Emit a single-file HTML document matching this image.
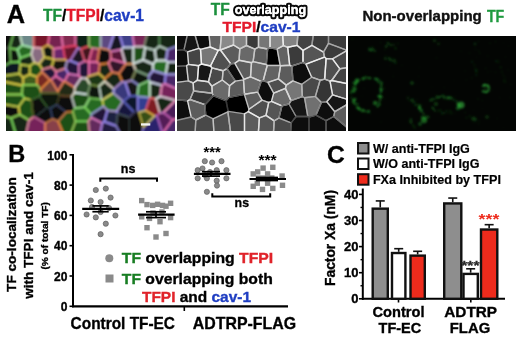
<!DOCTYPE html>
<html><head><meta charset="utf-8"><style>
html,body{margin:0;padding:0;background:#fff;width:520px;height:339px;overflow:hidden}
svg{display:block;filter:blur(0.3px);font-family:"Liberation Sans",sans-serif;font-weight:bold}
</style></head><body>
<svg width="520" height="339" viewBox="0 0 520 339">
<clipPath id="cA"><rect x="6" y="36" width="169" height="95"/></clipPath>
<filter id="fA" x="-5%" y="-5%" width="110%" height="110%"><feGaussianBlur stdDeviation="0.85"/></filter>
<g clip-path="url(#cA)"><rect x="6" y="36" width="169" height="95" fill="#203020"/><g filter="url(#fA)">
<path d="M9.5 48.0 L-451.9 48.0 L-455.4 -25.1 L-373.9 -226.8 L-216.0 -375.2 L-14.4 -443.8 L17.0 -441.0 L17.0 21.5Z" fill="#070707"/>
<path d="M9.8 48.2 L17.3 49.5 L22.3 45.2 L17.0 21.5 L9.5 48.0Z" fill="#122712"/>
<path d="M22.3 45.2 L33.0 47.9 L33.6 47.4 L33.6 -439.9 L17.0 -441.0 L17.0 21.5Z" fill="#6c8888"/>
<path d="M47.9 45.0 L55.9 -7.1 L71.4 -437.9 L33.6 -439.9 L33.6 47.4 L42.2 48.3Z" fill="#76192b"/>
<path d="M47.9 45.0 L55.9 -7.1 L63.0 47.4 L63.0 47.4 L53.4 48.8Z" fill="#76244f"/>
<path d="M63.0 47.4 L75.4 45.5 L75.4 -437.8 L71.4 -437.9 L55.9 -7.1Z" fill="#812b4f"/>
<path d="M88.9 46.1 L84.9 -437.8 L75.4 -437.8 L75.4 45.5 L77.7 48.2 L80.9 49.1Z" fill="#0f2414"/>
<path d="M9.8 48.2 L10.7 62.3 L-17.5 78.3 L-77.0 91.7 L-450.4 97.1 L-451.9 48.0 L9.5 48.0Z" fill="#070707"/>
<path d="M9.8 48.2 L10.7 62.3 L18.9 61.9 L20.2 58.1 L17.3 49.5Z" fill="#0a150a"/>
<path d="M22.3 45.2 L33.0 47.9 L31.3 54.2 L20.2 58.1 L17.3 49.5Z" fill="#276a20"/>
<path d="M29.7 65.9 L34.5 62.6 L31.3 54.2 L20.2 58.1 L18.9 61.9 L20.6 64.6Z" fill="#122712"/>
<path d="M39.0 64.1 L44.1 57.2 L42.2 48.3 L33.6 47.4 L33.0 47.9 L31.3 54.2 L34.5 62.6Z" fill="#886c81"/>
<path d="M47.9 45.0 L53.4 48.8 L53.4 59.2 L44.1 57.2 L42.2 48.3Z" fill="#0e190e"/>
<path d="M53.4 48.8 L63.0 47.4 L65.2 59.7 L53.7 59.7 L53.4 59.2Z" fill="#6c276c"/>
<path d="M70.2 60.6 L77.7 48.2 L75.4 45.5 L63.0 47.4 L63.0 47.4 L65.2 59.7 L67.0 61.2Z" fill="#64152b"/>
<path d="M70.2 60.6 L77.7 48.2 L80.9 49.1 L84.6 61.0 L78.7 64.2Z" fill="#1c1224"/>
<path d="M88.5 61.9 L84.6 61.0 L80.9 49.1 L88.9 46.1 L92.4 48.1Z" fill="#40121c"/>
<path d="M19.3 73.7 L-12.9 78.3 L-17.5 78.3 L10.7 62.3 L18.9 61.9 L20.6 64.6Z" fill="#0e1920"/>
<path d="M23.1 77.6 L19.3 73.7 L20.6 64.6 L29.7 65.9 L29.7 74.3Z" fill="#122712"/>
<path d="M41.9 71.9 L37.0 76.8 L29.7 74.3 L29.7 65.9 L34.5 62.6 L39.0 64.1 L42.4 69.5Z" fill="#1c4f19"/>
<path d="M51.6 66.9 L53.7 59.7 L53.4 59.2 L44.1 57.2 L39.0 64.1 L42.4 69.5Z" fill="#122712"/>
<path d="M65.4 68.3 L67.0 61.2 L65.2 59.7 L53.7 59.7 L51.6 66.9 L56.1 71.5Z" fill="#12150e"/>
<path d="M50.9 79.9 L50.0 79.9 L41.9 71.9 L42.4 69.5 L51.6 66.9 L56.1 71.5 L55.6 76.1Z" fill="#241539"/>
<path d="M55.6 76.1 L56.1 71.5 L65.4 68.3 L68.4 73.8 L64.6 81.2 L63.9 81.5Z" fill="#482768"/>
<path d="M68.4 73.8 L78.7 75.3 L78.7 64.2 L70.2 60.6 L67.0 61.2 L65.4 68.3Z" fill="#241539"/>
<path d="M78.7 75.3 L81.2 78.1 L86.5 78.5 L88.8 76.1 L88.9 62.1 L88.5 61.9 L84.6 61.0 L78.7 64.2Z" fill="#241539"/>
<path d="M23.1 77.6 L19.3 73.7 L-12.9 78.3 L22.7 85.5 L23.2 84.8Z" fill="#2b4015"/>
<path d="M23.1 77.6 L29.7 74.3 L37.0 76.8 L37.0 84.8 L23.2 84.8Z" fill="#405d1c"/>
<path d="M50.0 79.9 L41.9 71.9 L37.0 76.8 L37.0 84.8 L40.5 89.5Z" fill="#762b20"/>
<path d="M50.9 79.9 L57.8 91.2 L63.9 81.5 L55.6 76.1Z" fill="#4f1c40"/>
<path d="M68.4 73.8 L78.7 75.3 L81.2 78.1 L74.7 87.5 L64.6 81.2Z" fill="#642b5d"/>
<path d="M92.4 48.1 L88.9 46.1 L84.9 -437.8 L99.6 -437.8 L100.6 -410.5 L100.6 48.2 L99.4 48.8Z" fill="#276a20"/>
<path d="M100.6 -410.5 L116.9 -76.4 L117.0 25.5 L108.7 49.9 L100.6 48.2Z" fill="#5d4881"/>
<path d="M121.5 49.5 L123.3 47.5 L117.0 25.5 L108.7 49.9 L110.5 51.7Z" fill="#151524"/>
<path d="M123.3 47.5 L133.3 47.4 L134.2 46.6 L116.9 -76.4 L117.0 25.5Z" fill="#404088"/>
<path d="M100.6 -410.5 L116.9 -76.4 L134.2 46.6 L144.1 46.6 L159.4 -15.6 L208.0 -437.8 L195.2 -442.7 L99.6 -437.8Z" fill="#762756"/>
<path d="M145.1 47.7 L154.8 50.1 L159.4 46.1 L159.4 -15.6 L144.1 46.6Z" fill="#122712"/>
<path d="M159.4 46.1 L167.6 49.7 L597.5 -111.1 L551.7 -224.7 L395.4 -372.8 L208.0 -437.8 L159.4 -15.6Z" fill="#122712"/>
<path d="M88.5 61.9 L92.4 48.1 L99.4 48.8 L97.2 62.2 L88.9 62.1Z" fill="#81244f"/>
<path d="M99.7 64.3 L97.2 62.2 L99.4 48.8 L100.6 48.2 L108.7 49.9 L110.5 51.7 L110.9 59.2 L108.4 63.2Z" fill="#070707"/>
<path d="M121.5 49.5 L110.5 51.7 L110.9 59.2 L125.2 63.1Z" fill="#561939"/>
<path d="M125.9 63.8 L125.2 63.1 L121.5 49.5 L123.3 47.5 L133.3 47.4 L133.3 63.6 L133.1 63.8Z" fill="#122712"/>
<path d="M133.3 47.4 L133.3 63.6 L143.1 59.9 L145.1 47.7 L144.1 46.6 L134.2 46.6Z" fill="#1c4f19"/>
<path d="M156.0 60.5 L154.8 50.1 L145.1 47.7 L143.1 59.9 L152.9 64.1Z" fill="#122712"/>
<path d="M156.0 60.5 L154.8 50.1 L159.4 46.1 L167.6 49.7 L165.9 60.5Z" fill="#122712"/>
<path d="M165.9 60.5 L167.6 49.7 L597.5 -111.1 L634.0 -24.6 L631.3 62.1 L167.8 62.1Z" fill="#482768"/>
<path d="M99.7 64.3 L97.2 62.2 L88.9 62.1 L88.8 76.1 L98.5 73.3Z" fill="#76245a"/>
<path d="M99.7 64.3 L98.5 73.3 L104.7 78.6 L112.3 72.2 L108.4 63.2Z" fill="#122712"/>
<path d="M125.9 63.8 L125.2 63.1 L110.9 59.2 L108.4 63.2 L112.3 72.2 L118.9 73.7Z" fill="#32152b"/>
<path d="M125.2 82.4 L122.3 81.6 L118.9 73.7 L125.9 63.8 L133.1 63.8 L135.8 70.3 L131.5 80.3Z" fill="#070707"/>
<path d="M133.1 63.8 L133.3 63.6 L143.1 59.9 L152.9 64.1 L152.9 70.6 L148.8 75.9 L135.8 70.3Z" fill="#122712"/>
<path d="M156.0 60.5 L165.9 60.5 L167.8 62.1 L165.7 74.3 L152.9 70.6 L152.9 64.1Z" fill="#276a20"/>
<path d="M167.8 62.1 L631.3 62.1 L631.1 74.3 L165.7 74.3 L165.7 74.3Z" fill="#122712"/>
<path d="M90.1 84.8 L86.5 78.5 L88.8 76.1 L98.5 73.3 L104.7 78.6 L104.7 81.2 L99.1 86.1Z" fill="#1c3919"/>
<path d="M118.9 73.7 L112.3 72.2 L104.7 78.6 L104.7 81.2 L113.8 89.1 L122.3 81.6Z" fill="#122712"/>
<path d="M138.7 85.2 L148.8 80.7 L148.8 75.9 L135.8 70.3 L131.5 80.3Z" fill="#0a150a"/>
<path d="M148.8 80.7 L148.8 75.9 L152.9 70.6 L165.7 74.3 L165.7 74.3 L164.7 83.6 L161.8 85.4 L149.7 81.9Z" fill="#241539"/>
<path d="M193.5 96.2 L322.0 96.2 L631.1 81.1 L631.1 74.3 L165.7 74.3 L164.7 83.6Z" fill="#482768"/>
<path d="M21.8 94.5 L22.7 85.5 L-12.9 78.3 L-17.5 78.3 L-77.0 91.7 L-67.1 93.4 L-52.7 94.5Z" fill="#1c4f19"/>
<path d="M41.1 92.8 L39.3 96.4 L31.2 100.0 L24.6 98.4 L21.8 94.5 L22.7 85.5 L23.2 84.8 L37.0 84.8 L40.5 89.5Z" fill="#1c4f19"/>
<path d="M50.9 79.9 L50.0 79.9 L40.5 89.5 L41.1 92.8 L57.7 92.8 L57.8 91.2Z" fill="#6c4039"/>
<path d="M57.8 91.2 L57.7 92.8 L59.5 95.4 L71.6 96.5 L74.6 92.6 L74.7 87.5 L64.6 81.2 L63.9 81.5Z" fill="#242b12"/>
<path d="M74.6 92.6 L74.7 87.5 L81.2 78.1 L86.5 78.5 L90.1 84.8 L87.5 94.4Z" fill="#2b482b"/>
<path d="M18.6 106.8 L-52.7 94.5 L21.8 94.5 L24.6 98.4Z" fill="#1c4f19"/>
<path d="M19.7 114.5 L11.1 118.2 L-67.1 93.4 L-52.7 94.5 L18.6 106.8Z" fill="#070707"/>
<path d="M33.2 117.2 L31.2 100.0 L24.6 98.4 L18.6 106.8 L19.7 114.5 L29.0 120.3Z" fill="#1c4f19"/>
<path d="M47.3 107.4 L39.3 96.4 L31.2 100.0 L33.2 117.2 L34.8 117.2Z" fill="#070707"/>
<path d="M41.1 92.8 L39.3 96.4 L47.3 107.4 L50.3 108.3 L56.6 104.7 L59.5 95.4 L57.7 92.8Z" fill="#0a140a"/>
<path d="M71.6 96.5 L59.5 95.4 L56.6 104.7 L66.3 112.2 L72.7 111.7 L75.0 108.2Z" fill="#070707"/>
<path d="M84.7 107.2 L75.0 108.2 L71.6 96.5 L74.6 92.6 L87.5 94.4 L89.7 98.1Z" fill="#1c4f19"/>
<path d="M50.3 108.3 L52.6 119.0 L45.2 123.2 L34.8 117.2 L47.3 107.4Z" fill="#070a0e"/>
<path d="M50.3 108.3 L56.6 104.7 L66.3 112.2 L58.1 121.4 L52.6 119.0Z" fill="#080a0f"/>
<path d="M66.3 112.2 L72.7 111.7 L75.6 121.4 L67.3 142.5 L58.1 121.4Z" fill="#1c4f19"/>
<path d="M84.7 107.2 L75.0 108.2 L72.7 111.7 L75.6 121.4 L88.2 121.3 L91.3 117.6 L91.3 114.3Z" fill="#276a20"/>
<path d="M29.0 120.3 L21.6 153.4 L11.1 118.2 L19.7 114.5Z" fill="#122712"/>
<path d="M11.1 118.2 L-67.1 93.4 L-77.0 91.7 L-450.4 97.1 L-454.7 192.0 L-373.1 393.3 L-215.4 541.3 L-14.2 609.7 L-8.1 609.2 L21.6 153.4Z" fill="#122712"/>
<path d="M34.8 117.2 L33.2 117.2 L29.0 120.3 L21.6 153.4 L-8.1 609.2 L45.2 606.3 L45.2 123.2Z" fill="#76245a"/>
<path d="M45.2 123.2 L45.2 606.3 L67.3 605.4 L67.3 142.5 L58.1 121.4 L52.6 119.0Z" fill="#884048"/>
<path d="M75.6 121.4 L67.3 142.5 L67.3 605.4 L76.4 605.3 L93.8 166.6 L88.2 121.3Z" fill="#1c4f19"/>
<path d="M101.4 99.3 L99.1 86.1 L90.1 84.8 L87.5 94.4 L89.7 98.1Z" fill="#0a150a"/>
<path d="M101.4 99.3 L89.7 98.1 L84.7 107.2 L91.3 114.3 L103.4 106.2 L102.4 100.1Z" fill="#276a20"/>
<path d="M101.4 99.3 L99.1 86.1 L104.7 81.2 L113.8 89.1 L113.4 93.1 L102.4 100.1Z" fill="#122712"/>
<path d="M102.4 100.1 L113.4 93.1 L122.9 101.3 L116.6 111.3 L107.5 110.3 L103.4 106.2Z" fill="#276a20"/>
<path d="M129.8 96.1 L123.5 101.1 L122.9 101.3 L113.4 93.1 L113.8 89.1 L122.3 81.6 L125.2 82.4Z" fill="#39397a"/>
<path d="M137.2 95.9 L138.7 85.2 L131.5 80.3 L125.2 82.4 L129.8 96.1Z" fill="#121915"/>
<path d="M137.2 95.9 L137.7 96.3 L149.7 97.6 L149.7 81.9 L148.8 80.7 L138.7 85.2Z" fill="#276a20"/>
<path d="M149.9 97.8 L149.7 97.6 L149.7 81.9 L161.8 85.4 L160.2 96.4 L155.8 98.9Z" fill="#122712"/>
<path d="M161.8 85.4 L164.7 83.6 L193.5 96.2 L175.6 100.3 L160.2 96.4Z" fill="#76245a"/>
<path d="M122.9 101.3 L123.5 101.1 L134.2 112.4 L129.2 117.3 L117.8 113.5 L116.6 111.3Z" fill="#15193d"/>
<path d="M137.2 95.9 L137.7 96.3 L137.7 111.8 L134.2 112.4 L123.5 101.1 L129.8 96.1Z" fill="#0e152b"/>
<path d="M138.9 112.3 L145.6 110.5 L149.9 97.8 L149.7 97.6 L137.7 96.3 L137.7 111.8Z" fill="#323d90"/>
<path d="M154.6 115.9 L145.6 110.5 L149.9 97.8 L155.8 98.9 L159.8 112.9 L156.9 115.7Z" fill="#7e1c20"/>
<path d="M155.8 98.9 L160.2 96.4 L175.6 100.3 L163.4 112.5 L159.8 112.9Z" fill="#122712"/>
<path d="M175.6 100.3 L163.4 112.5 L172.5 119.7 L322.0 96.2 L193.5 96.2Z" fill="#481c56"/>
<path d="M91.3 114.3 L91.3 117.6 L102.2 123.0 L104.3 121.6 L107.5 110.3 L103.4 106.2Z" fill="#241539"/>
<path d="M116.6 111.3 L117.8 113.5 L116.1 125.8 L104.3 121.6 L107.5 110.3Z" fill="#1c2440"/>
<path d="M129.2 151.9 L116.1 125.8 L117.8 113.5 L129.2 117.3Z" fill="#070707"/>
<path d="M138.9 112.3 L143.4 127.1 L133.8 169.1 L129.2 151.9 L129.2 117.3 L134.2 112.4 L137.7 111.8Z" fill="#070707"/>
<path d="M133.8 169.1 L143.5 293.6 L162.6 133.4 L156.9 115.7 L154.6 115.9 L143.4 127.1Z" fill="#2b246c"/>
<path d="M138.9 112.3 L145.6 110.5 L154.6 115.9 L143.4 127.1Z" fill="#394f15"/>
<path d="M156.9 115.7 L162.6 133.4 L172.5 119.7 L163.4 112.5 L159.8 112.9Z" fill="#521c56"/>
<path d="M91.3 117.6 L102.2 123.0 L93.8 166.6 L88.2 121.3Z" fill="#642b5d"/>
<path d="M129.2 151.9 L116.1 125.8 L104.3 121.6 L102.2 123.0 L93.8 166.6 L76.4 605.3 L148.3 606.6 L143.5 293.6 L133.8 169.1Z" fill="#241c40"/>
<path d="M143.5 293.6 L148.3 606.6 L195.4 610.8 L397.0 542.2 L554.9 393.8 L636.4 192.1 L631.1 81.1 L322.0 96.2 L172.5 119.7 L162.6 133.4Z" fill="#482768"/>
<path d="M9.5 48.0 L-451.9 48.0 L-455.4 -25.1 L-373.9 -226.8 L-216.0 -375.2 L-14.4 -443.8 L17.0 -441.0 L17.0 21.5Z" fill="none" stroke="#3c3c3c" stroke-width="1.8" stroke-linejoin="round" stroke-opacity="0.8"/>
<path d="M9.8 48.2 L17.3 49.5 L22.3 45.2 L17.0 21.5 L9.5 48.0Z" fill="none" stroke="#78d25a" stroke-width="1.8" stroke-linejoin="round" stroke-opacity="0.8"/>
<path d="M22.3 45.2 L33.0 47.9 L33.6 47.4 L33.6 -439.9 L17.0 -441.0 L17.0 21.5Z" fill="none" stroke="#dce8e8" stroke-width="1.8" stroke-linejoin="round" stroke-opacity="0.8"/>
<path d="M47.9 45.0 L55.9 -7.1 L71.4 -437.9 L33.6 -439.9 L33.6 47.4 L42.2 48.3Z" fill="none" stroke="#e64646" stroke-width="1.8" stroke-linejoin="round" stroke-opacity="0.8"/>
<path d="M47.9 45.0 L55.9 -7.1 L63.0 47.4 L63.0 47.4 L53.4 48.8Z" fill="none" stroke="#e86eaa" stroke-width="1.8" stroke-linejoin="round" stroke-opacity="0.8"/>
<path d="M63.0 47.4 L75.4 45.5 L75.4 -437.8 L71.4 -437.9 L55.9 -7.1Z" fill="none" stroke="#e86eaa" stroke-width="1.8" stroke-linejoin="round" stroke-opacity="0.8"/>
<path d="M88.9 46.1 L84.9 -437.8 L75.4 -437.8 L75.4 45.5 L77.7 48.2 L80.9 49.1Z" fill="none" stroke="#e86eaa" stroke-width="1.8" stroke-linejoin="round" stroke-opacity="0.8"/>
<path d="M9.8 48.2 L10.7 62.3 L-17.5 78.3 L-77.0 91.7 L-450.4 97.1 L-451.9 48.0 L9.5 48.0Z" fill="none" stroke="#3c3c3c" stroke-width="1.8" stroke-linejoin="round" stroke-opacity="0.8"/>
<path d="M9.8 48.2 L10.7 62.3 L18.9 61.9 L20.2 58.1 L17.3 49.5Z" fill="none" stroke="#78d25a" stroke-width="1.8" stroke-linejoin="round" stroke-opacity="0.8"/>
<path d="M22.3 45.2 L33.0 47.9 L31.3 54.2 L20.2 58.1 L17.3 49.5Z" fill="none" stroke="#96e6a0" stroke-width="1.8" stroke-linejoin="round" stroke-opacity="0.8"/>
<path d="M29.7 65.9 L34.5 62.6 L31.3 54.2 L20.2 58.1 L18.9 61.9 L20.6 64.6Z" fill="none" stroke="#78d25a" stroke-width="1.8" stroke-linejoin="round" stroke-opacity="0.8"/>
<path d="M39.0 64.1 L44.1 57.2 L42.2 48.3 L33.6 47.4 L33.0 47.9 L31.3 54.2 L34.5 62.6Z" fill="none" stroke="#ebc8dc" stroke-width="1.8" stroke-linejoin="round" stroke-opacity="0.8"/>
<path d="M47.9 45.0 L53.4 48.8 L53.4 59.2 L44.1 57.2 L42.2 48.3Z" fill="none" stroke="#d7c846" stroke-width="1.8" stroke-linejoin="round" stroke-opacity="0.8"/>
<path d="M53.4 48.8 L63.0 47.4 L65.2 59.7 L53.7 59.7 L53.4 59.2Z" fill="none" stroke="#e86eaa" stroke-width="1.8" stroke-linejoin="round" stroke-opacity="0.8"/>
<path d="M70.2 60.6 L77.7 48.2 L75.4 45.5 L63.0 47.4 L63.0 47.4 L65.2 59.7 L67.0 61.2Z" fill="none" stroke="#e13755" stroke-width="1.8" stroke-linejoin="round" stroke-opacity="0.8"/>
<path d="M70.2 60.6 L77.7 48.2 L80.9 49.1 L84.6 61.0 L78.7 64.2Z" fill="none" stroke="#9687eb" stroke-width="1.8" stroke-linejoin="round" stroke-opacity="0.8"/>
<path d="M88.5 61.9 L84.6 61.0 L80.9 49.1 L88.9 46.1 L92.4 48.1Z" fill="none" stroke="#e64646" stroke-width="1.8" stroke-linejoin="round" stroke-opacity="0.8"/>
<path d="M19.3 73.7 L-12.9 78.3 L-17.5 78.3 L10.7 62.3 L18.9 61.9 L20.6 64.6Z" fill="none" stroke="#78d25a" stroke-width="1.8" stroke-linejoin="round" stroke-opacity="0.8"/>
<path d="M23.1 77.6 L19.3 73.7 L20.6 64.6 L29.7 65.9 L29.7 74.3Z" fill="none" stroke="#d7c846" stroke-width="1.8" stroke-linejoin="round" stroke-opacity="0.8"/>
<path d="M41.9 71.9 L37.0 76.8 L29.7 74.3 L29.7 65.9 L34.5 62.6 L39.0 64.1 L42.4 69.5Z" fill="none" stroke="#d7c846" stroke-width="1.8" stroke-linejoin="round" stroke-opacity="0.8"/>
<path d="M51.6 66.9 L53.7 59.7 L53.4 59.2 L44.1 57.2 L39.0 64.1 L42.4 69.5Z" fill="none" stroke="#d7c846" stroke-width="1.8" stroke-linejoin="round" stroke-opacity="0.8"/>
<path d="M65.4 68.3 L67.0 61.2 L65.2 59.7 L53.7 59.7 L51.6 66.9 L56.1 71.5Z" fill="none" stroke="#d7c846" stroke-width="1.8" stroke-linejoin="round" stroke-opacity="0.8"/>
<path d="M50.9 79.9 L50.0 79.9 L41.9 71.9 L42.4 69.5 L51.6 66.9 L56.1 71.5 L55.6 76.1Z" fill="none" stroke="#e86eaa" stroke-width="1.8" stroke-linejoin="round" stroke-opacity="0.8"/>
<path d="M55.6 76.1 L56.1 71.5 L65.4 68.3 L68.4 73.8 L64.6 81.2 L63.9 81.5Z" fill="none" stroke="#e86eaa" stroke-width="1.8" stroke-linejoin="round" stroke-opacity="0.8"/>
<path d="M68.4 73.8 L78.7 75.3 L78.7 64.2 L70.2 60.6 L67.0 61.2 L65.4 68.3Z" fill="none" stroke="#9687eb" stroke-width="1.8" stroke-linejoin="round" stroke-opacity="0.8"/>
<path d="M78.7 75.3 L81.2 78.1 L86.5 78.5 L88.8 76.1 L88.9 62.1 L88.5 61.9 L84.6 61.0 L78.7 64.2Z" fill="none" stroke="#e86eaa" stroke-width="1.8" stroke-linejoin="round" stroke-opacity="0.8"/>
<path d="M23.1 77.6 L19.3 73.7 L-12.9 78.3 L22.7 85.5 L23.2 84.8Z" fill="none" stroke="#d7c846" stroke-width="1.8" stroke-linejoin="round" stroke-opacity="0.8"/>
<path d="M23.1 77.6 L29.7 74.3 L37.0 76.8 L37.0 84.8 L23.2 84.8Z" fill="none" stroke="#d7c846" stroke-width="1.8" stroke-linejoin="round" stroke-opacity="0.8"/>
<path d="M50.0 79.9 L41.9 71.9 L37.0 76.8 L37.0 84.8 L40.5 89.5Z" fill="none" stroke="#e1823c" stroke-width="1.8" stroke-linejoin="round" stroke-opacity="0.8"/>
<path d="M50.9 79.9 L57.8 91.2 L63.9 81.5 L55.6 76.1Z" fill="none" stroke="#e86eaa" stroke-width="1.8" stroke-linejoin="round" stroke-opacity="0.8"/>
<path d="M68.4 73.8 L78.7 75.3 L81.2 78.1 L74.7 87.5 L64.6 81.2Z" fill="none" stroke="#e86eaa" stroke-width="1.8" stroke-linejoin="round" stroke-opacity="0.8"/>
<path d="M92.4 48.1 L88.9 46.1 L84.9 -437.8 L99.6 -437.8 L100.6 -410.5 L100.6 48.2 L99.4 48.8Z" fill="none" stroke="#78d25a" stroke-width="1.8" stroke-linejoin="round" stroke-opacity="0.8"/>
<path d="M100.6 -410.5 L116.9 -76.4 L117.0 25.5 L108.7 49.9 L100.6 48.2Z" fill="none" stroke="#beaae6" stroke-width="1.8" stroke-linejoin="round" stroke-opacity="0.8"/>
<path d="M121.5 49.5 L123.3 47.5 L117.0 25.5 L108.7 49.9 L110.5 51.7Z" fill="none" stroke="#9687eb" stroke-width="1.8" stroke-linejoin="round" stroke-opacity="0.8"/>
<path d="M123.3 47.5 L133.3 47.4 L134.2 46.6 L116.9 -76.4 L117.0 25.5Z" fill="none" stroke="#9687eb" stroke-width="1.8" stroke-linejoin="round" stroke-opacity="0.8"/>
<path d="M100.6 -410.5 L116.9 -76.4 L134.2 46.6 L144.1 46.6 L159.4 -15.6 L208.0 -437.8 L195.2 -442.7 L99.6 -437.8Z" fill="none" stroke="#e86eaa" stroke-width="1.8" stroke-linejoin="round" stroke-opacity="0.8"/>
<path d="M145.1 47.7 L154.8 50.1 L159.4 46.1 L159.4 -15.6 L144.1 46.6Z" fill="none" stroke="#5a8c5a" stroke-width="1.8" stroke-linejoin="round" stroke-opacity="0.8"/>
<path d="M159.4 46.1 L167.6 49.7 L597.5 -111.1 L551.7 -224.7 L395.4 -372.8 L208.0 -437.8 L159.4 -15.6Z" fill="none" stroke="#508250" stroke-width="1.8" stroke-linejoin="round" stroke-opacity="0.8"/>
<path d="M88.5 61.9 L92.4 48.1 L99.4 48.8 L97.2 62.2 L88.9 62.1Z" fill="none" stroke="#e86eaa" stroke-width="1.8" stroke-linejoin="round" stroke-opacity="0.8"/>
<path d="M99.7 64.3 L97.2 62.2 L99.4 48.8 L100.6 48.2 L108.7 49.9 L110.5 51.7 L110.9 59.2 L108.4 63.2Z" fill="none" stroke="#e1823c" stroke-width="1.8" stroke-linejoin="round" stroke-opacity="0.8"/>
<path d="M121.5 49.5 L110.5 51.7 L110.9 59.2 L125.2 63.1Z" fill="none" stroke="#e86eaa" stroke-width="1.8" stroke-linejoin="round" stroke-opacity="0.8"/>
<path d="M125.9 63.8 L125.2 63.1 L121.5 49.5 L123.3 47.5 L133.3 47.4 L133.3 63.6 L133.1 63.8Z" fill="none" stroke="#dce8e8" stroke-width="1.8" stroke-linejoin="round" stroke-opacity="0.8"/>
<path d="M133.3 47.4 L133.3 63.6 L143.1 59.9 L145.1 47.7 L144.1 46.6 L134.2 46.6Z" fill="none" stroke="#dce8e8" stroke-width="1.8" stroke-linejoin="round" stroke-opacity="0.8"/>
<path d="M156.0 60.5 L154.8 50.1 L145.1 47.7 L143.1 59.9 L152.9 64.1Z" fill="none" stroke="#dce8e8" stroke-width="1.8" stroke-linejoin="round" stroke-opacity="0.8"/>
<path d="M156.0 60.5 L154.8 50.1 L159.4 46.1 L167.6 49.7 L165.9 60.5Z" fill="none" stroke="#dce8e8" stroke-width="1.8" stroke-linejoin="round" stroke-opacity="0.8"/>
<path d="M165.9 60.5 L167.6 49.7 L597.5 -111.1 L634.0 -24.6 L631.3 62.1 L167.8 62.1Z" fill="none" stroke="#9687eb" stroke-width="1.8" stroke-linejoin="round" stroke-opacity="0.8"/>
<path d="M99.7 64.3 L97.2 62.2 L88.9 62.1 L88.8 76.1 L98.5 73.3Z" fill="none" stroke="#e86eaa" stroke-width="1.8" stroke-linejoin="round" stroke-opacity="0.8"/>
<path d="M99.7 64.3 L98.5 73.3 L104.7 78.6 L112.3 72.2 L108.4 63.2Z" fill="none" stroke="#e1823c" stroke-width="1.8" stroke-linejoin="round" stroke-opacity="0.8"/>
<path d="M125.9 63.8 L125.2 63.1 L110.9 59.2 L108.4 63.2 L112.3 72.2 L118.9 73.7Z" fill="none" stroke="#e86eaa" stroke-width="1.8" stroke-linejoin="round" stroke-opacity="0.8"/>
<path d="M125.2 82.4 L122.3 81.6 L118.9 73.7 L125.9 63.8 L133.1 63.8 L135.8 70.3 L131.5 80.3Z" fill="none" stroke="#e1823c" stroke-width="1.8" stroke-linejoin="round" stroke-opacity="0.8"/>
<path d="M133.1 63.8 L133.3 63.6 L143.1 59.9 L152.9 64.1 L152.9 70.6 L148.8 75.9 L135.8 70.3Z" fill="none" stroke="#dce8e8" stroke-width="1.8" stroke-linejoin="round" stroke-opacity="0.8"/>
<path d="M156.0 60.5 L165.9 60.5 L167.8 62.1 L165.7 74.3 L152.9 70.6 L152.9 64.1Z" fill="none" stroke="#dce8e8" stroke-width="1.8" stroke-linejoin="round" stroke-opacity="0.8"/>
<path d="M167.8 62.1 L631.3 62.1 L631.1 74.3 L165.7 74.3 L165.7 74.3Z" fill="none" stroke="#dce8e8" stroke-width="1.8" stroke-linejoin="round" stroke-opacity="0.8"/>
<path d="M90.1 84.8 L86.5 78.5 L88.8 76.1 L98.5 73.3 L104.7 78.6 L104.7 81.2 L99.1 86.1Z" fill="none" stroke="#d7c846" stroke-width="1.8" stroke-linejoin="round" stroke-opacity="0.8"/>
<path d="M118.9 73.7 L112.3 72.2 L104.7 78.6 L104.7 81.2 L113.8 89.1 L122.3 81.6Z" fill="none" stroke="#e1823c" stroke-width="1.8" stroke-linejoin="round" stroke-opacity="0.8"/>
<path d="M138.7 85.2 L148.8 80.7 L148.8 75.9 L135.8 70.3 L131.5 80.3Z" fill="none" stroke="#648c64" stroke-width="1.8" stroke-linejoin="round" stroke-opacity="0.8"/>
<path d="M148.8 80.7 L148.8 75.9 L152.9 70.6 L165.7 74.3 L165.7 74.3 L164.7 83.6 L161.8 85.4 L149.7 81.9Z" fill="none" stroke="#9687eb" stroke-width="1.8" stroke-linejoin="round" stroke-opacity="0.8"/>
<path d="M193.5 96.2 L322.0 96.2 L631.1 81.1 L631.1 74.3 L165.7 74.3 L164.7 83.6Z" fill="none" stroke="#9687eb" stroke-width="1.8" stroke-linejoin="round" stroke-opacity="0.8"/>
<path d="M21.8 94.5 L22.7 85.5 L-12.9 78.3 L-17.5 78.3 L-77.0 91.7 L-67.1 93.4 L-52.7 94.5Z" fill="none" stroke="#d7c846" stroke-width="1.8" stroke-linejoin="round" stroke-opacity="0.8"/>
<path d="M41.1 92.8 L39.3 96.4 L31.2 100.0 L24.6 98.4 L21.8 94.5 L22.7 85.5 L23.2 84.8 L37.0 84.8 L40.5 89.5Z" fill="none" stroke="#78d25a" stroke-width="1.8" stroke-linejoin="round" stroke-opacity="0.8"/>
<path d="M50.9 79.9 L50.0 79.9 L40.5 89.5 L41.1 92.8 L57.7 92.8 L57.8 91.2Z" fill="none" stroke="#e1823c" stroke-width="1.8" stroke-linejoin="round" stroke-opacity="0.8"/>
<path d="M57.8 91.2 L57.7 92.8 L59.5 95.4 L71.6 96.5 L74.6 92.6 L74.7 87.5 L64.6 81.2 L63.9 81.5Z" fill="none" stroke="#e1823c" stroke-width="1.8" stroke-linejoin="round" stroke-opacity="0.8"/>
<path d="M74.6 92.6 L74.7 87.5 L81.2 78.1 L86.5 78.5 L90.1 84.8 L87.5 94.4Z" fill="none" stroke="#dce8e8" stroke-width="1.8" stroke-linejoin="round" stroke-opacity="0.8"/>
<path d="M18.6 106.8 L-52.7 94.5 L21.8 94.5 L24.6 98.4Z" fill="none" stroke="#78d25a" stroke-width="1.8" stroke-linejoin="round" stroke-opacity="0.8"/>
<path d="M19.7 114.5 L11.1 118.2 L-67.1 93.4 L-52.7 94.5 L18.6 106.8Z" fill="none" stroke="#d7c846" stroke-width="1.8" stroke-linejoin="round" stroke-opacity="0.8"/>
<path d="M33.2 117.2 L31.2 100.0 L24.6 98.4 L18.6 106.8 L19.7 114.5 L29.0 120.3Z" fill="none" stroke="#d7c846" stroke-width="1.8" stroke-linejoin="round" stroke-opacity="0.8"/>
<path d="M47.3 107.4 L39.3 96.4 L31.2 100.0 L33.2 117.2 L34.8 117.2Z" fill="none" stroke="#283c1e" stroke-width="1.8" stroke-linejoin="round" stroke-opacity="0.8"/>
<path d="M41.1 92.8 L39.3 96.4 L47.3 107.4 L50.3 108.3 L56.6 104.7 L59.5 95.4 L57.7 92.8Z" fill="none" stroke="#325a2d" stroke-width="1.8" stroke-linejoin="round" stroke-opacity="0.8"/>
<path d="M71.6 96.5 L59.5 95.4 L56.6 104.7 L66.3 112.2 L72.7 111.7 L75.0 108.2Z" fill="none" stroke="#3c321e" stroke-width="1.8" stroke-linejoin="round" stroke-opacity="0.8"/>
<path d="M84.7 107.2 L75.0 108.2 L71.6 96.5 L74.6 92.6 L87.5 94.4 L89.7 98.1Z" fill="none" stroke="#dce8e8" stroke-width="1.8" stroke-linejoin="round" stroke-opacity="0.8"/>
<path d="M50.3 108.3 L52.6 119.0 L45.2 123.2 L34.8 117.2 L47.3 107.4Z" fill="none" stroke="#28323c" stroke-width="1.8" stroke-linejoin="round" stroke-opacity="0.8"/>
<path d="M50.3 108.3 L56.6 104.7 L66.3 112.2 L58.1 121.4 L52.6 119.0Z" fill="none" stroke="#323c64" stroke-width="1.8" stroke-linejoin="round" stroke-opacity="0.8"/>
<path d="M66.3 112.2 L72.7 111.7 L75.6 121.4 L67.3 142.5 L58.1 121.4Z" fill="none" stroke="#e1823c" stroke-width="1.8" stroke-linejoin="round" stroke-opacity="0.8"/>
<path d="M84.7 107.2 L75.0 108.2 L72.7 111.7 L75.6 121.4 L88.2 121.3 L91.3 117.6 L91.3 114.3Z" fill="none" stroke="#78d25a" stroke-width="1.8" stroke-linejoin="round" stroke-opacity="0.8"/>
<path d="M29.0 120.3 L21.6 153.4 L11.1 118.2 L19.7 114.5Z" fill="none" stroke="#78d25a" stroke-width="1.8" stroke-linejoin="round" stroke-opacity="0.8"/>
<path d="M11.1 118.2 L-67.1 93.4 L-77.0 91.7 L-450.4 97.1 L-454.7 192.0 L-373.1 393.3 L-215.4 541.3 L-14.2 609.7 L-8.1 609.2 L21.6 153.4Z" fill="none" stroke="#78d25a" stroke-width="1.8" stroke-linejoin="round" stroke-opacity="0.8"/>
<path d="M34.8 117.2 L33.2 117.2 L29.0 120.3 L21.6 153.4 L-8.1 609.2 L45.2 606.3 L45.2 123.2Z" fill="none" stroke="#e86eaa" stroke-width="1.8" stroke-linejoin="round" stroke-opacity="0.8"/>
<path d="M45.2 123.2 L45.2 606.3 L67.3 605.4 L67.3 142.5 L58.1 121.4 L52.6 119.0Z" fill="none" stroke="#e1823c" stroke-width="1.8" stroke-linejoin="round" stroke-opacity="0.8"/>
<path d="M75.6 121.4 L67.3 142.5 L67.3 605.4 L76.4 605.3 L93.8 166.6 L88.2 121.3Z" fill="none" stroke="#78d25a" stroke-width="1.8" stroke-linejoin="round" stroke-opacity="0.8"/>
<path d="M101.4 99.3 L99.1 86.1 L90.1 84.8 L87.5 94.4 L89.7 98.1Z" fill="none" stroke="#50783c" stroke-width="1.8" stroke-linejoin="round" stroke-opacity="0.8"/>
<path d="M101.4 99.3 L89.7 98.1 L84.7 107.2 L91.3 114.3 L103.4 106.2 L102.4 100.1Z" fill="none" stroke="#78d25a" stroke-width="1.8" stroke-linejoin="round" stroke-opacity="0.8"/>
<path d="M101.4 99.3 L99.1 86.1 L104.7 81.2 L113.8 89.1 L113.4 93.1 L102.4 100.1Z" fill="none" stroke="#dce8e8" stroke-width="1.8" stroke-linejoin="round" stroke-opacity="0.8"/>
<path d="M102.4 100.1 L113.4 93.1 L122.9 101.3 L116.6 111.3 L107.5 110.3 L103.4 106.2Z" fill="none" stroke="#d7c846" stroke-width="1.8" stroke-linejoin="round" stroke-opacity="0.8"/>
<path d="M129.8 96.1 L123.5 101.1 L122.9 101.3 L113.4 93.1 L113.8 89.1 L122.3 81.6 L125.2 82.4Z" fill="none" stroke="#9687eb" stroke-width="1.8" stroke-linejoin="round" stroke-opacity="0.8"/>
<path d="M137.2 95.9 L138.7 85.2 L131.5 80.3 L125.2 82.4 L129.8 96.1Z" fill="none" stroke="#9687eb" stroke-width="1.8" stroke-linejoin="round" stroke-opacity="0.8"/>
<path d="M137.2 95.9 L137.7 96.3 L149.7 97.6 L149.7 81.9 L148.8 80.7 L138.7 85.2Z" fill="none" stroke="#96e68c" stroke-width="1.8" stroke-linejoin="round" stroke-opacity="0.8"/>
<path d="M149.9 97.8 L149.7 97.6 L149.7 81.9 L161.8 85.4 L160.2 96.4 L155.8 98.9Z" fill="none" stroke="#dce8e8" stroke-width="1.8" stroke-linejoin="round" stroke-opacity="0.8"/>
<path d="M161.8 85.4 L164.7 83.6 L193.5 96.2 L175.6 100.3 L160.2 96.4Z" fill="none" stroke="#e86eaa" stroke-width="1.8" stroke-linejoin="round" stroke-opacity="0.8"/>
<path d="M122.9 101.3 L123.5 101.1 L134.2 112.4 L129.2 117.3 L117.8 113.5 L116.6 111.3Z" fill="none" stroke="#9687eb" stroke-width="1.8" stroke-linejoin="round" stroke-opacity="0.8"/>
<path d="M137.2 95.9 L137.7 96.3 L137.7 111.8 L134.2 112.4 L123.5 101.1 L129.8 96.1Z" fill="none" stroke="#4650aa" stroke-width="1.8" stroke-linejoin="round" stroke-opacity="0.8"/>
<path d="M138.9 112.3 L145.6 110.5 L149.9 97.8 L149.7 97.6 L137.7 96.3 L137.7 111.8Z" fill="none" stroke="#9687eb" stroke-width="1.8" stroke-linejoin="round" stroke-opacity="0.8"/>
<path d="M154.6 115.9 L145.6 110.5 L149.9 97.8 L155.8 98.9 L159.8 112.9 L156.9 115.7Z" fill="none" stroke="#e64646" stroke-width="1.8" stroke-linejoin="round" stroke-opacity="0.8"/>
<path d="M155.8 98.9 L160.2 96.4 L175.6 100.3 L163.4 112.5 L159.8 112.9Z" fill="none" stroke="#dce8e8" stroke-width="1.8" stroke-linejoin="round" stroke-opacity="0.8"/>
<path d="M175.6 100.3 L163.4 112.5 L172.5 119.7 L322.0 96.2 L193.5 96.2Z" fill="none" stroke="#e86eaa" stroke-width="1.8" stroke-linejoin="round" stroke-opacity="0.8"/>
<path d="M91.3 114.3 L91.3 117.6 L102.2 123.0 L104.3 121.6 L107.5 110.3 L103.4 106.2Z" fill="none" stroke="#9687eb" stroke-width="1.8" stroke-linejoin="round" stroke-opacity="0.8"/>
<path d="M116.6 111.3 L117.8 113.5 L116.1 125.8 L104.3 121.6 L107.5 110.3Z" fill="none" stroke="#9687eb" stroke-width="1.8" stroke-linejoin="round" stroke-opacity="0.8"/>
<path d="M129.2 151.9 L116.1 125.8 L117.8 113.5 L129.2 117.3Z" fill="none" stroke="#283c28" stroke-width="1.8" stroke-linejoin="round" stroke-opacity="0.8"/>
<path d="M138.9 112.3 L143.4 127.1 L133.8 169.1 L129.2 151.9 L129.2 117.3 L134.2 112.4 L137.7 111.8Z" fill="none" stroke="#282832" stroke-width="1.8" stroke-linejoin="round" stroke-opacity="0.8"/>
<path d="M133.8 169.1 L143.5 293.6 L162.6 133.4 L156.9 115.7 L154.6 115.9 L143.4 127.1Z" fill="none" stroke="#9687eb" stroke-width="1.8" stroke-linejoin="round" stroke-opacity="0.8"/>
<path d="M138.9 112.3 L145.6 110.5 L154.6 115.9 L143.4 127.1Z" fill="none" stroke="#d7c846" stroke-width="1.8" stroke-linejoin="round" stroke-opacity="0.8"/>
<path d="M156.9 115.7 L162.6 133.4 L172.5 119.7 L163.4 112.5 L159.8 112.9Z" fill="none" stroke="#aa50aa" stroke-width="1.8" stroke-linejoin="round" stroke-opacity="0.8"/>
<path d="M91.3 117.6 L102.2 123.0 L93.8 166.6 L88.2 121.3Z" fill="none" stroke="#e86eaa" stroke-width="1.8" stroke-linejoin="round" stroke-opacity="0.8"/>
<path d="M129.2 151.9 L116.1 125.8 L104.3 121.6 L102.2 123.0 L93.8 166.6 L76.4 605.3 L148.3 606.6 L143.5 293.6 L133.8 169.1Z" fill="none" stroke="#9687eb" stroke-width="1.8" stroke-linejoin="round" stroke-opacity="0.8"/>
<path d="M143.5 293.6 L148.3 606.6 L195.4 610.8 L397.0 542.2 L554.9 393.8 L636.4 192.1 L631.1 81.1 L322.0 96.2 L172.5 119.7 L162.6 133.4Z" fill="none" stroke="#e86eaa" stroke-width="1.8" stroke-linejoin="round" stroke-opacity="0.8"/>

</g></g>
<rect x="141" y="123.3" width="9.3" height="2.3" fill="#f4f4f4"/><clipPath id="cB"><rect x="177" y="36" width="169" height="95"/></clipPath>
<filter id="fB" x="-5%" y="-5%" width="110%" height="110%"><feGaussianBlur stdDeviation="0.7"/></filter>
<g clip-path="url(#cB)"><rect x="177" y="36" width="169" height="95" fill="#202020"/><g filter="url(#fB)">
<path d="M184.0 49.8 L-278.0 78.7 L-282.7 -24.7 L-201.4 -225.8 L-44.1 -373.8 L150.6 -440.5 L190.7 19.8Z" fill="#0c0c0c"/>
<path d="M187.5 51.9 L198.8 48.4 L190.7 19.8 L184.0 49.8Z" fill="#161616"/>
<path d="M165.7 -442.3 L156.8 -442.8 L150.6 -440.5 L190.7 19.8 L198.8 48.4 L200.5 49.4 L210.2 47.0Z" fill="#111111"/>
<path d="M246.5 -435.5 L233.5 -110.5 L220.1 49.9 L218.3 50.3 L210.2 47.0 L165.7 -442.3 L246.6 -438.3Z" fill="#626262"/>
<path d="M233.5 -110.5 L233.5 45.0 L220.4 50.0 L220.1 49.9Z" fill="#898989"/>
<path d="M246.5 -435.5 L246.5 45.5 L239.8 48.8 L233.5 45.0 L233.5 -110.5Z" fill="#838383"/>
<path d="M246.5 -435.5 L246.5 45.5 L254.8 49.1 L258.5 47.2 L258.5 -438.2 L246.6 -438.3Z" fill="#3b3b3b"/>
<path d="M270.0 47.7 L270.0 -142.5 L258.6 -438.2 L258.5 -438.2 L258.5 47.2 L267.6 49.0Z" fill="#767676"/>
<path d="M283.4 45.7 L270.0 -142.5 L270.0 47.7 L277.2 49.0Z" fill="#898989"/>
<path d="M283.4 45.7 L270.0 -142.5 L258.6 -438.2 L329.5 -440.4 L297.1 45.4 L287.7 47.3Z" fill="#838383"/>
<path d="M303.0 50.4 L311.9 45.3 L328.5 -79.0 L351.1 -441.3 L329.5 -440.4 L297.1 45.4Z" fill="#424242"/>
<path d="M311.9 45.3 L328.5 -79.0 L328.5 43.4 L323.5 52.1Z" fill="#3b3b3b"/>
<path d="M328.5 43.4 L328.5 -79.0 L351.1 -441.3 L366.1 -442.5 L566.4 -372.8 L722.6 -224.6 L797.0 -39.6 L347.2 50.4Z" fill="#3b3b3b"/>
<path d="M187.5 51.9 L188.6 64.4 L186.6 65.7 L-249.5 93.0 L-277.6 93.5 L-278.0 78.7 L184.0 49.8Z" fill="#0c0c0c"/>
<path d="M187.5 51.9 L188.6 64.4 L198.6 65.7 L201.5 64.0 L200.5 49.4 L198.8 48.4Z" fill="#444444"/>
<path d="M218.3 50.3 L210.5 66.0 L201.5 64.0 L200.5 49.4 L210.2 47.0Z" fill="#767676"/>
<path d="M227.0 68.6 L230.8 63.9 L220.4 50.0 L220.1 49.9 L218.3 50.3 L210.5 66.0 L211.9 67.9 L223.0 70.8Z" fill="#4f4f4f"/>
<path d="M230.8 63.9 L220.4 50.0 L233.5 45.0 L239.8 48.8 L239.1 60.2 L234.9 63.3Z" fill="#5c5c5c"/>
<path d="M239.8 48.8 L239.1 60.2 L251.5 62.7 L253.1 61.6 L254.8 49.1 L246.5 45.5Z" fill="#696969"/>
<path d="M253.1 61.6 L254.8 49.1 L258.5 47.2 L267.6 49.0 L266.3 64.5Z" fill="#5c5c5c"/>
<path d="M280.2 65.5 L267.2 65.5 L266.3 64.5 L267.6 49.0 L270.0 47.7 L277.2 49.0Z" fill="#040404"/>
<path d="M283.4 45.7 L277.2 49.0 L280.2 65.5 L280.6 65.7 L289.7 65.3 L287.7 47.3Z" fill="#626262"/>
<path d="M287.7 47.3 L297.1 45.4 L303.0 50.4 L303.0 62.3 L291.9 66.0 L289.7 65.3Z" fill="#3b3b3b"/>
<path d="M303.0 50.4 L311.9 45.3 L323.5 52.1 L324.5 57.1 L306.0 64.2 L303.0 62.3Z" fill="#555555"/>
<path d="M324.5 57.1 L326.1 58.6 L332.5 58.9 L347.2 50.4 L328.5 43.4 L323.5 52.1Z" fill="#3b3b3b"/>
<path d="M332.5 58.9 L347.2 50.4 L797.0 -39.6 L803.5 -24.3 L803.0 -2.4 L339.9 68.8Z" fill="#484848"/>
<path d="M186.6 65.7 L-249.5 93.0 L97.8 93.0 L188.3 80.9Z" fill="#141414"/>
<path d="M188.6 64.4 L198.6 65.7 L197.4 80.2 L193.2 83.0 L188.3 80.9 L186.6 65.7Z" fill="#3b3b3b"/>
<path d="M198.6 65.7 L201.5 64.0 L210.5 66.0 L211.9 67.9 L208.4 81.8 L197.4 80.2Z" fill="#161616"/>
<path d="M223.0 70.8 L211.9 67.9 L208.4 81.8 L211.9 86.2 L222.3 80.0Z" fill="#484848"/>
<path d="M227.0 68.6 L235.4 81.1 L229.6 85.7 L222.3 80.0 L223.0 70.8Z" fill="#4f4f4f"/>
<path d="M227.0 68.6 L230.8 63.9 L234.9 63.3 L243.9 79.4 L243.5 79.9 L235.4 81.1Z" fill="#101010"/>
<path d="M234.9 63.3 L239.1 60.2 L251.5 62.7 L250.5 76.8 L243.9 79.4Z" fill="#5c5c5c"/>
<path d="M261.2 81.3 L250.5 76.8 L251.5 62.7 L253.1 61.6 L266.3 64.5 L267.2 65.5 L263.2 80.6Z" fill="#696969"/>
<path d="M267.9 82.4 L263.2 80.6 L267.2 65.5 L280.2 65.5 L280.6 65.7 L278.4 78.9Z" fill="#626262"/>
<path d="M286.2 85.1 L292.9 80.8 L291.9 66.0 L289.7 65.3 L280.6 65.7 L278.4 78.9Z" fill="#5c5c5c"/>
<path d="M292.9 80.8 L301.7 84.4 L311.7 77.2 L306.0 64.2 L303.0 62.3 L291.9 66.0Z" fill="#090909"/>
<path d="M306.0 64.2 L324.5 57.1 L326.1 58.6 L324.7 79.1 L320.1 80.2 L311.7 77.2Z" fill="#484848"/>
<path d="M324.7 79.1 L326.1 58.6 L332.5 58.9 L339.9 68.8 L331.7 80.5 L330.0 81.1Z" fill="#4f4f4f"/>
<path d="M339.9 68.8 L803.0 -2.4 L802.1 95.0 L404.0 95.0 L331.7 80.5Z" fill="#424242"/>
<path d="M193.2 83.0 L193.6 91.0 L190.0 99.5 L187.6 100.8 L97.8 93.0 L188.3 80.9Z" fill="#484848"/>
<path d="M197.4 80.2 L208.4 81.8 L211.9 86.2 L212.3 93.3 L193.6 91.0 L193.2 83.0Z" fill="#484848"/>
<path d="M229.6 85.7 L228.8 97.4 L226.1 100.6 L213.3 95.7 L212.3 93.3 L211.9 86.2 L222.3 80.0Z" fill="#696969"/>
<path d="M235.4 81.1 L243.5 79.9 L244.5 94.3 L244.4 94.3 L228.8 97.4 L229.6 85.7Z" fill="#5c5c5c"/>
<path d="M243.5 79.9 L244.5 94.3 L257.6 92.1 L261.2 81.3 L250.5 76.8 L243.9 79.4Z" fill="#696969"/>
<path d="M271.5 101.4 L268.7 102.5 L262.0 100.1 L257.6 92.1 L261.2 81.3 L263.2 80.6 L267.9 82.4 L273.7 93.1Z" fill="#080808"/>
<path d="M281.9 105.9 L271.5 101.4 L273.7 93.1 L285.4 88.4 L291.0 100.6 L289.0 104.0Z" fill="#696969"/>
<path d="M285.4 88.4 L286.2 85.1 L278.4 78.9 L267.9 82.4 L273.7 93.1Z" fill="#4f4f4f"/>
<path d="M291.0 100.6 L302.4 96.6 L301.7 84.4 L292.9 80.8 L286.2 85.1 L285.4 88.4Z" fill="#767676"/>
<path d="M302.4 96.6 L304.6 97.8 L315.4 96.4 L320.1 80.2 L311.7 77.2 L301.7 84.4Z" fill="#484848"/>
<path d="M321.4 102.4 L315.4 96.4 L320.1 80.2 L324.7 79.1 L330.0 81.1 L332.6 94.8 L326.8 101.8Z" fill="#353535"/>
<path d="M330.0 81.1 L331.7 80.5 L404.0 95.0 L353.0 101.1 L332.6 94.8Z" fill="#484848"/>
<path d="M187.6 100.8 L191.2 117.0 L-267.5 222.8 L-280.6 191.3 L-277.6 93.5 L-249.5 93.0 L97.8 93.0Z" fill="#0c0c0c"/>
<path d="M190.0 99.5 L205.0 104.7 L205.6 115.1 L195.8 120.0 L191.2 117.0 L187.6 100.8Z" fill="#5c5c5c"/>
<path d="M193.6 91.0 L190.0 99.5 L205.0 104.7 L213.3 95.7 L212.3 93.3Z" fill="#353535"/>
<path d="M213.3 95.7 L205.0 104.7 L205.6 115.1 L213.1 118.8 L227.9 111.9 L228.1 111.4 L226.1 100.6Z" fill="#060606"/>
<path d="M244.4 94.3 L249.0 109.2 L248.3 111.6 L244.5 113.9 L228.1 111.4 L226.1 100.6 L228.8 97.4Z" fill="#060606"/>
<path d="M244.5 94.3 L257.6 92.1 L262.0 100.1 L249.0 109.2 L244.4 94.3Z" fill="#5c5c5c"/>
<path d="M266.0 115.3 L259.4 117.9 L248.3 111.6 L249.0 109.2 L262.0 100.1 L268.7 102.5Z" fill="#4f4f4f"/>
<path d="M278.9 118.0 L274.2 120.8 L266.0 115.3 L268.7 102.5 L271.5 101.4 L281.9 105.9Z" fill="#555555"/>
<path d="M296.1 116.5 L289.0 104.0 L281.9 105.9 L278.9 118.0 L291.1 122.9Z" fill="#0c0c0c"/>
<path d="M296.1 116.5 L307.8 116.5 L304.6 97.8 L302.4 96.6 L291.0 100.6 L289.0 104.0Z" fill="#141414"/>
<path d="M321.4 102.4 L315.4 96.4 L304.6 97.8 L307.8 116.5 L309.0 117.2 L315.9 115.2Z" fill="#6f6f6f"/>
<path d="M334.8 111.7 L326.8 101.8 L321.4 102.4 L315.9 115.2 L326.0 120.6 L333.7 116.5Z" fill="#101010"/>
<path d="M334.8 111.7 L353.0 101.1 L332.6 94.8 L326.8 101.8Z" fill="#141414"/>
<path d="M334.8 111.7 L353.0 101.1 L404.0 95.0 L802.1 95.0 L805.4 191.7 L722.2 391.3 L697.5 414.2 L333.7 116.5Z" fill="#5c5c5c"/>
<path d="M195.8 120.0 L170.1 608.5 L156.9 609.5 L-43.4 539.8 L-199.6 391.6 L-267.5 222.8 L191.2 117.0Z" fill="#424242"/>
<path d="M205.6 115.1 L195.8 120.0 L170.1 608.5 L241.7 604.3 L213.1 118.8Z" fill="#484848"/>
<path d="M244.5 236.5 L247.6 283.1 L252.0 476.5 L252.0 603.8 L241.7 604.3 L213.1 118.8 L227.9 111.9Z" fill="#4f4f4f"/>
<path d="M244.5 113.9 L228.1 111.4 L227.9 111.9 L244.5 236.5Z" fill="#484848"/>
<path d="M248.3 111.6 L244.5 113.9 L244.5 236.5 L247.6 283.1 L259.4 117.9Z" fill="#5c5c5c"/>
<path d="M266.0 115.3 L259.4 117.9 L247.6 283.1 L252.0 476.5 L274.2 120.8Z" fill="#555555"/>
<path d="M291.1 122.9 L264.4 604.1 L252.0 603.8 L252.0 476.5 L274.2 120.8 L278.9 118.0Z" fill="#484848"/>
<path d="M296.1 116.5 L307.8 116.5 L309.0 117.2 L309.0 605.9 L264.4 604.1 L291.1 122.9Z" fill="#0c0c0c"/>
<path d="M326.0 120.6 L326.0 606.9 L309.0 605.9 L309.0 117.2 L315.9 115.2Z" fill="#0c0c0c"/>
<path d="M333.7 116.5 L697.5 414.2 L566.2 539.5 L366.2 609.9 L326.0 606.9 L326.0 120.6Z" fill="#101010"/>
<path d="M184.0 49.8 L-278.0 78.7 L-282.7 -24.7 L-201.4 -225.8 L-44.1 -373.8 L150.6 -440.5 L190.7 19.8Z" fill="none" stroke="#484848" stroke-width="1.4" stroke-linejoin="round" stroke-opacity="0.85"/>
<path d="M187.5 51.9 L198.8 48.4 L190.7 19.8 L184.0 49.8Z" fill="none" stroke="#969696" stroke-width="1.4" stroke-linejoin="round" stroke-opacity="0.85"/>
<path d="M165.7 -442.3 L156.8 -442.8 L150.6 -440.5 L190.7 19.8 L198.8 48.4 L200.5 49.4 L210.2 47.0Z" fill="none" stroke="#a3a3a3" stroke-width="1.4" stroke-linejoin="round" stroke-opacity="0.85"/>
<path d="M246.5 -435.5 L233.5 -110.5 L220.1 49.9 L218.3 50.3 L210.2 47.0 L165.7 -442.3 L246.6 -438.3Z" fill="none" stroke="#d7d7d7" stroke-width="1.4" stroke-linejoin="round" stroke-opacity="0.85"/>
<path d="M233.5 -110.5 L233.5 45.0 L220.4 50.0 L220.1 49.9Z" fill="none" stroke="#d7d7d7" stroke-width="1.4" stroke-linejoin="round" stroke-opacity="0.85"/>
<path d="M246.5 -435.5 L246.5 45.5 L239.8 48.8 L233.5 45.0 L233.5 -110.5Z" fill="none" stroke="#cacaca" stroke-width="1.4" stroke-linejoin="round" stroke-opacity="0.85"/>
<path d="M246.5 -435.5 L246.5 45.5 L254.8 49.1 L258.5 47.2 L258.5 -438.2 L246.6 -438.3Z" fill="none" stroke="#d7d7d7" stroke-width="1.4" stroke-linejoin="round" stroke-opacity="0.85"/>
<path d="M270.0 47.7 L270.0 -142.5 L258.6 -438.2 L258.5 -438.2 L258.5 47.2 L267.6 49.0Z" fill="none" stroke="#d7d7d7" stroke-width="1.4" stroke-linejoin="round" stroke-opacity="0.85"/>
<path d="M283.4 45.7 L270.0 -142.5 L270.0 47.7 L277.2 49.0Z" fill="none" stroke="#f1f1f1" stroke-width="1.4" stroke-linejoin="round" stroke-opacity="0.85"/>
<path d="M283.4 45.7 L270.0 -142.5 L258.6 -438.2 L329.5 -440.4 L297.1 45.4 L287.7 47.3Z" fill="none" stroke="#f1f1f1" stroke-width="1.4" stroke-linejoin="round" stroke-opacity="0.85"/>
<path d="M303.0 50.4 L311.9 45.3 L328.5 -79.0 L351.1 -441.3 L329.5 -440.4 L297.1 45.4Z" fill="none" stroke="#b0b0b0" stroke-width="1.4" stroke-linejoin="round" stroke-opacity="0.85"/>
<path d="M311.9 45.3 L328.5 -79.0 L328.5 43.4 L323.5 52.1Z" fill="none" stroke="#969696" stroke-width="1.4" stroke-linejoin="round" stroke-opacity="0.85"/>
<path d="M328.5 43.4 L328.5 -79.0 L351.1 -441.3 L366.1 -442.5 L566.4 -372.8 L722.6 -224.6 L797.0 -39.6 L347.2 50.4Z" fill="none" stroke="#969696" stroke-width="1.4" stroke-linejoin="round" stroke-opacity="0.85"/>
<path d="M187.5 51.9 L188.6 64.4 L186.6 65.7 L-249.5 93.0 L-277.6 93.5 L-278.0 78.7 L184.0 49.8Z" fill="none" stroke="#484848" stroke-width="1.4" stroke-linejoin="round" stroke-opacity="0.85"/>
<path d="M187.5 51.9 L188.6 64.4 L198.6 65.7 L201.5 64.0 L200.5 49.4 L198.8 48.4Z" fill="none" stroke="#f1f1f1" stroke-width="1.4" stroke-linejoin="round" stroke-opacity="0.85"/>
<path d="M218.3 50.3 L210.5 66.0 L201.5 64.0 L200.5 49.4 L210.2 47.0Z" fill="none" stroke="#f5f5f5" stroke-width="1.4" stroke-linejoin="round" stroke-opacity="0.85"/>
<path d="M227.0 68.6 L230.8 63.9 L220.4 50.0 L220.1 49.9 L218.3 50.3 L210.5 66.0 L211.9 67.9 L223.0 70.8Z" fill="none" stroke="#f1f1f1" stroke-width="1.4" stroke-linejoin="round" stroke-opacity="0.85"/>
<path d="M230.8 63.9 L220.4 50.0 L233.5 45.0 L239.8 48.8 L239.1 60.2 L234.9 63.3Z" fill="none" stroke="#e4e4e4" stroke-width="1.4" stroke-linejoin="round" stroke-opacity="0.85"/>
<path d="M239.8 48.8 L239.1 60.2 L251.5 62.7 L253.1 61.6 L254.8 49.1 L246.5 45.5Z" fill="none" stroke="#cacaca" stroke-width="1.4" stroke-linejoin="round" stroke-opacity="0.85"/>
<path d="M253.1 61.6 L254.8 49.1 L258.5 47.2 L267.6 49.0 L266.3 64.5Z" fill="none" stroke="#cacaca" stroke-width="1.4" stroke-linejoin="round" stroke-opacity="0.85"/>
<path d="M280.2 65.5 L267.2 65.5 L266.3 64.5 L267.6 49.0 L270.0 47.7 L277.2 49.0Z" fill="none" stroke="#626262" stroke-width="1.4" stroke-linejoin="round" stroke-opacity="0.85"/>
<path d="M283.4 45.7 L277.2 49.0 L280.2 65.5 L280.6 65.7 L289.7 65.3 L287.7 47.3Z" fill="none" stroke="#d7d7d7" stroke-width="1.4" stroke-linejoin="round" stroke-opacity="0.85"/>
<path d="M287.7 47.3 L297.1 45.4 L303.0 50.4 L303.0 62.3 L291.9 66.0 L289.7 65.3Z" fill="none" stroke="#f5f5f5" stroke-width="1.4" stroke-linejoin="round" stroke-opacity="0.85"/>
<path d="M303.0 50.4 L311.9 45.3 L323.5 52.1 L324.5 57.1 L306.0 64.2 L303.0 62.3Z" fill="none" stroke="#f5f5f5" stroke-width="1.4" stroke-linejoin="round" stroke-opacity="0.85"/>
<path d="M324.5 57.1 L326.1 58.6 L332.5 58.9 L347.2 50.4 L328.5 43.4 L323.5 52.1Z" fill="none" stroke="#b0b0b0" stroke-width="1.4" stroke-linejoin="round" stroke-opacity="0.85"/>
<path d="M332.5 58.9 L347.2 50.4 L797.0 -39.6 L803.5 -24.3 L803.0 -2.4 L339.9 68.8Z" fill="none" stroke="#d7d7d7" stroke-width="1.4" stroke-linejoin="round" stroke-opacity="0.85"/>
<path d="M186.6 65.7 L-249.5 93.0 L97.8 93.0 L188.3 80.9Z" fill="none" stroke="#626262" stroke-width="1.4" stroke-linejoin="round" stroke-opacity="0.85"/>
<path d="M188.6 64.4 L198.6 65.7 L197.4 80.2 L193.2 83.0 L188.3 80.9 L186.6 65.7Z" fill="none" stroke="#e4e4e4" stroke-width="1.4" stroke-linejoin="round" stroke-opacity="0.85"/>
<path d="M198.6 65.7 L201.5 64.0 L210.5 66.0 L211.9 67.9 L208.4 81.8 L197.4 80.2Z" fill="none" stroke="#f5f5f5" stroke-width="1.4" stroke-linejoin="round" stroke-opacity="0.85"/>
<path d="M223.0 70.8 L211.9 67.9 L208.4 81.8 L211.9 86.2 L222.3 80.0Z" fill="none" stroke="#d7d7d7" stroke-width="1.4" stroke-linejoin="round" stroke-opacity="0.85"/>
<path d="M227.0 68.6 L235.4 81.1 L229.6 85.7 L222.3 80.0 L223.0 70.8Z" fill="none" stroke="#cacaca" stroke-width="1.4" stroke-linejoin="round" stroke-opacity="0.85"/>
<path d="M227.0 68.6 L230.8 63.9 L234.9 63.3 L243.9 79.4 L243.5 79.9 L235.4 81.1Z" fill="none" stroke="#626262" stroke-width="1.4" stroke-linejoin="round" stroke-opacity="0.85"/>
<path d="M234.9 63.3 L239.1 60.2 L251.5 62.7 L250.5 76.8 L243.9 79.4Z" fill="none" stroke="#e4e4e4" stroke-width="1.4" stroke-linejoin="round" stroke-opacity="0.85"/>
<path d="M261.2 81.3 L250.5 76.8 L251.5 62.7 L253.1 61.6 L266.3 64.5 L267.2 65.5 L263.2 80.6Z" fill="none" stroke="#d7d7d7" stroke-width="1.4" stroke-linejoin="round" stroke-opacity="0.85"/>
<path d="M267.9 82.4 L263.2 80.6 L267.2 65.5 L280.2 65.5 L280.6 65.7 L278.4 78.9Z" fill="none" stroke="#d7d7d7" stroke-width="1.4" stroke-linejoin="round" stroke-opacity="0.85"/>
<path d="M286.2 85.1 L292.9 80.8 L291.9 66.0 L289.7 65.3 L280.6 65.7 L278.4 78.9Z" fill="none" stroke="#d7d7d7" stroke-width="1.4" stroke-linejoin="round" stroke-opacity="0.85"/>
<path d="M292.9 80.8 L301.7 84.4 L311.7 77.2 L306.0 64.2 L303.0 62.3 L291.9 66.0Z" fill="none" stroke="#626262" stroke-width="1.4" stroke-linejoin="round" stroke-opacity="0.85"/>
<path d="M306.0 64.2 L324.5 57.1 L326.1 58.6 L324.7 79.1 L320.1 80.2 L311.7 77.2Z" fill="none" stroke="#f5f5f5" stroke-width="1.4" stroke-linejoin="round" stroke-opacity="0.85"/>
<path d="M324.7 79.1 L326.1 58.6 L332.5 58.9 L339.9 68.8 L331.7 80.5 L330.0 81.1Z" fill="none" stroke="#f5f5f5" stroke-width="1.4" stroke-linejoin="round" stroke-opacity="0.85"/>
<path d="M339.9 68.8 L803.0 -2.4 L802.1 95.0 L404.0 95.0 L331.7 80.5Z" fill="none" stroke="#cacaca" stroke-width="1.4" stroke-linejoin="round" stroke-opacity="0.85"/>
<path d="M193.2 83.0 L193.6 91.0 L190.0 99.5 L187.6 100.8 L97.8 93.0 L188.3 80.9Z" fill="none" stroke="#cacaca" stroke-width="1.4" stroke-linejoin="round" stroke-opacity="0.85"/>
<path d="M197.4 80.2 L208.4 81.8 L211.9 86.2 L212.3 93.3 L193.6 91.0 L193.2 83.0Z" fill="none" stroke="#e4e4e4" stroke-width="1.4" stroke-linejoin="round" stroke-opacity="0.85"/>
<path d="M229.6 85.7 L228.8 97.4 L226.1 100.6 L213.3 95.7 L212.3 93.3 L211.9 86.2 L222.3 80.0Z" fill="none" stroke="#d7d7d7" stroke-width="1.4" stroke-linejoin="round" stroke-opacity="0.85"/>
<path d="M235.4 81.1 L243.5 79.9 L244.5 94.3 L244.4 94.3 L228.8 97.4 L229.6 85.7Z" fill="none" stroke="#d7d7d7" stroke-width="1.4" stroke-linejoin="round" stroke-opacity="0.85"/>
<path d="M243.5 79.9 L244.5 94.3 L257.6 92.1 L261.2 81.3 L250.5 76.8 L243.9 79.4Z" fill="none" stroke="#d7d7d7" stroke-width="1.4" stroke-linejoin="round" stroke-opacity="0.85"/>
<path d="M271.5 101.4 L268.7 102.5 L262.0 100.1 L257.6 92.1 L261.2 81.3 L263.2 80.6 L267.9 82.4 L273.7 93.1Z" fill="none" stroke="#626262" stroke-width="1.4" stroke-linejoin="round" stroke-opacity="0.85"/>
<path d="M281.9 105.9 L271.5 101.4 L273.7 93.1 L285.4 88.4 L291.0 100.6 L289.0 104.0Z" fill="none" stroke="#f1f1f1" stroke-width="1.4" stroke-linejoin="round" stroke-opacity="0.85"/>
<path d="M285.4 88.4 L286.2 85.1 L278.4 78.9 L267.9 82.4 L273.7 93.1Z" fill="none" stroke="#d7d7d7" stroke-width="1.4" stroke-linejoin="round" stroke-opacity="0.85"/>
<path d="M291.0 100.6 L302.4 96.6 L301.7 84.4 L292.9 80.8 L286.2 85.1 L285.4 88.4Z" fill="none" stroke="#d7d7d7" stroke-width="1.4" stroke-linejoin="round" stroke-opacity="0.85"/>
<path d="M302.4 96.6 L304.6 97.8 L315.4 96.4 L320.1 80.2 L311.7 77.2 L301.7 84.4Z" fill="none" stroke="#b0b0b0" stroke-width="1.4" stroke-linejoin="round" stroke-opacity="0.85"/>
<path d="M321.4 102.4 L315.4 96.4 L320.1 80.2 L324.7 79.1 L330.0 81.1 L332.6 94.8 L326.8 101.8Z" fill="none" stroke="#b0b0b0" stroke-width="1.4" stroke-linejoin="round" stroke-opacity="0.85"/>
<path d="M330.0 81.1 L331.7 80.5 L404.0 95.0 L353.0 101.1 L332.6 94.8Z" fill="none" stroke="#f5f5f5" stroke-width="1.4" stroke-linejoin="round" stroke-opacity="0.85"/>
<path d="M187.6 100.8 L191.2 117.0 L-267.5 222.8 L-280.6 191.3 L-277.6 93.5 L-249.5 93.0 L97.8 93.0Z" fill="none" stroke="#484848" stroke-width="1.4" stroke-linejoin="round" stroke-opacity="0.85"/>
<path d="M190.0 99.5 L205.0 104.7 L205.6 115.1 L195.8 120.0 L191.2 117.0 L187.6 100.8Z" fill="none" stroke="#f5f5f5" stroke-width="1.4" stroke-linejoin="round" stroke-opacity="0.85"/>
<path d="M193.6 91.0 L190.0 99.5 L205.0 104.7 L213.3 95.7 L212.3 93.3Z" fill="none" stroke="#b0b0b0" stroke-width="1.4" stroke-linejoin="round" stroke-opacity="0.85"/>
<path d="M213.3 95.7 L205.0 104.7 L205.6 115.1 L213.1 118.8 L227.9 111.9 L228.1 111.4 L226.1 100.6Z" fill="none" stroke="#3b3b3b" stroke-width="1.4" stroke-linejoin="round" stroke-opacity="0.85"/>
<path d="M244.4 94.3 L249.0 109.2 L248.3 111.6 L244.5 113.9 L228.1 111.4 L226.1 100.6 L228.8 97.4Z" fill="none" stroke="#3b3b3b" stroke-width="1.4" stroke-linejoin="round" stroke-opacity="0.85"/>
<path d="M244.5 94.3 L257.6 92.1 L262.0 100.1 L249.0 109.2 L244.4 94.3Z" fill="none" stroke="#d7d7d7" stroke-width="1.4" stroke-linejoin="round" stroke-opacity="0.85"/>
<path d="M266.0 115.3 L259.4 117.9 L248.3 111.6 L249.0 109.2 L262.0 100.1 L268.7 102.5Z" fill="none" stroke="#d7d7d7" stroke-width="1.4" stroke-linejoin="round" stroke-opacity="0.85"/>
<path d="M278.9 118.0 L274.2 120.8 L266.0 115.3 L268.7 102.5 L271.5 101.4 L281.9 105.9Z" fill="none" stroke="#e4e4e4" stroke-width="1.4" stroke-linejoin="round" stroke-opacity="0.85"/>
<path d="M296.1 116.5 L289.0 104.0 L281.9 105.9 L278.9 118.0 L291.1 122.9Z" fill="none" stroke="#626262" stroke-width="1.4" stroke-linejoin="round" stroke-opacity="0.85"/>
<path d="M296.1 116.5 L307.8 116.5 L304.6 97.8 L302.4 96.6 L291.0 100.6 L289.0 104.0Z" fill="none" stroke="#969696" stroke-width="1.4" stroke-linejoin="round" stroke-opacity="0.85"/>
<path d="M321.4 102.4 L315.4 96.4 L304.6 97.8 L307.8 116.5 L309.0 117.2 L315.9 115.2Z" fill="none" stroke="#b0b0b0" stroke-width="1.4" stroke-linejoin="round" stroke-opacity="0.85"/>
<path d="M334.8 111.7 L326.8 101.8 L321.4 102.4 L315.9 115.2 L326.0 120.6 L333.7 116.5Z" fill="none" stroke="#7c7c7c" stroke-width="1.4" stroke-linejoin="round" stroke-opacity="0.85"/>
<path d="M334.8 111.7 L353.0 101.1 L332.6 94.8 L326.8 101.8Z" fill="none" stroke="#d7d7d7" stroke-width="1.4" stroke-linejoin="round" stroke-opacity="0.85"/>
<path d="M334.8 111.7 L353.0 101.1 L404.0 95.0 L802.1 95.0 L805.4 191.7 L722.2 391.3 L697.5 414.2 L333.7 116.5Z" fill="none" stroke="#b0b0b0" stroke-width="1.4" stroke-linejoin="round" stroke-opacity="0.85"/>
<path d="M195.8 120.0 L170.1 608.5 L156.9 609.5 L-43.4 539.8 L-199.6 391.6 L-267.5 222.8 L191.2 117.0Z" fill="none" stroke="#969696" stroke-width="1.4" stroke-linejoin="round" stroke-opacity="0.85"/>
<path d="M205.6 115.1 L195.8 120.0 L170.1 608.5 L241.7 604.3 L213.1 118.8Z" fill="none" stroke="#b0b0b0" stroke-width="1.4" stroke-linejoin="round" stroke-opacity="0.85"/>
<path d="M244.5 236.5 L247.6 283.1 L252.0 476.5 L252.0 603.8 L241.7 604.3 L213.1 118.8 L227.9 111.9Z" fill="none" stroke="#cacaca" stroke-width="1.4" stroke-linejoin="round" stroke-opacity="0.85"/>
<path d="M244.5 113.9 L228.1 111.4 L227.9 111.9 L244.5 236.5Z" fill="none" stroke="#b0b0b0" stroke-width="1.4" stroke-linejoin="round" stroke-opacity="0.85"/>
<path d="M248.3 111.6 L244.5 113.9 L244.5 236.5 L247.6 283.1 L259.4 117.9Z" fill="none" stroke="#f5f5f5" stroke-width="1.4" stroke-linejoin="round" stroke-opacity="0.85"/>
<path d="M266.0 115.3 L259.4 117.9 L247.6 283.1 L252.0 476.5 L274.2 120.8Z" fill="none" stroke="#e4e4e4" stroke-width="1.4" stroke-linejoin="round" stroke-opacity="0.85"/>
<path d="M291.1 122.9 L264.4 604.1 L252.0 603.8 L252.0 476.5 L274.2 120.8 L278.9 118.0Z" fill="none" stroke="#b0b0b0" stroke-width="1.4" stroke-linejoin="round" stroke-opacity="0.85"/>
<path d="M296.1 116.5 L307.8 116.5 L309.0 117.2 L309.0 605.9 L264.4 604.1 L291.1 122.9Z" fill="none" stroke="#484848" stroke-width="1.4" stroke-linejoin="round" stroke-opacity="0.85"/>
<path d="M326.0 120.6 L326.0 606.9 L309.0 605.9 L309.0 117.2 L315.9 115.2Z" fill="none" stroke="#484848" stroke-width="1.4" stroke-linejoin="round" stroke-opacity="0.85"/>
<path d="M333.7 116.5 L697.5 414.2 L566.2 539.5 L366.2 609.9 L326.0 606.9 L326.0 120.6Z" fill="none" stroke="#626262" stroke-width="1.4" stroke-linejoin="round" stroke-opacity="0.85"/>

</g></g><filter id="fC" x="-5%" y="-5%" width="110%" height="110%"><feGaussianBlur stdDeviation="1.0"/></filter>
<clipPath id="cC"><rect x="348" y="36" width="168" height="95"/></clipPath>
<g clip-path="url(#cC)"><rect x="348" y="36" width="168" height="95" fill="#030503"/><g filter="url(#fC)">
<circle cx="354.6" cy="88.1" r="0.76" fill="rgb(40,165,50)" fill-opacity="0.39"/>
<circle cx="354.5" cy="88.3" r="0.73" fill="rgb(40,165,50)" fill-opacity="0.36"/>
<circle cx="357.7" cy="81.9" r="1.36" fill="rgb(40,165,50)" fill-opacity="0.26"/>
<circle cx="353.0" cy="82.8" r="1.16" fill="rgb(40,165,50)" fill-opacity="0.34"/>
<circle cx="356.6" cy="104.0" r="0.93" fill="rgb(40,165,50)" fill-opacity="0.26"/>
<circle cx="355.4" cy="84.0" r="0.84" fill="rgb(40,165,50)" fill-opacity="0.40"/>
<circle cx="351.7" cy="95.7" r="0.75" fill="rgb(40,165,50)" fill-opacity="0.24"/>
<circle cx="354.5" cy="83.2" r="0.95" fill="rgb(40,165,50)" fill-opacity="0.41"/>
<circle cx="352.4" cy="91.8" r="1.26" fill="rgb(40,165,50)" fill-opacity="0.30"/>
<circle cx="350.6" cy="92.8" r="1.28" fill="rgb(40,165,50)" fill-opacity="0.31"/>
<circle cx="355.5" cy="104.2" r="1.31" fill="rgb(40,165,50)" fill-opacity="0.27"/>
<circle cx="354.2" cy="91.3" r="1.31" fill="rgb(40,165,50)" fill-opacity="0.40"/>
<circle cx="353.1" cy="102.3" r="1.18" fill="rgb(40,165,50)" fill-opacity="0.40"/>
<circle cx="354.2" cy="88.1" r="1.08" fill="rgb(40,165,50)" fill-opacity="0.43"/>
<circle cx="356.5" cy="79.8" r="1.49" fill="rgb(40,165,50)" fill-opacity="0.48"/>
<circle cx="353.0" cy="86.9" r="0.72" fill="rgb(40,165,50)" fill-opacity="0.37"/>
<circle cx="355.7" cy="83.6" r="1.31" fill="rgb(40,165,50)" fill-opacity="0.26"/>
<circle cx="352.9" cy="86.4" r="0.76" fill="rgb(40,165,50)" fill-opacity="0.36"/>
<circle cx="354.0" cy="91.3" r="1.39" fill="rgb(40,165,50)" fill-opacity="0.31"/>
<circle cx="351.8" cy="90.7" r="1.47" fill="rgb(40,165,50)" fill-opacity="0.26"/>
<circle cx="355.4" cy="84.2" r="1.09" fill="rgb(40,165,50)" fill-opacity="0.41"/>
<circle cx="355.3" cy="85.5" r="1.00" fill="rgb(40,165,50)" fill-opacity="0.40"/>
<circle cx="354.0" cy="101.7" r="1.19" fill="rgb(40,165,50)" fill-opacity="0.44"/>
<circle cx="358.5" cy="80.0" r="1.40" fill="rgb(40,165,50)" fill-opacity="0.47"/>
<circle cx="352.9" cy="88.8" r="1.21" fill="rgb(40,165,50)" fill-opacity="0.24"/>
<circle cx="357.0" cy="81.8" r="0.97" fill="rgb(40,165,50)" fill-opacity="0.23"/>
<circle cx="358.3" cy="80.4" r="0.99" fill="rgb(40,165,50)" fill-opacity="0.22"/>
<circle cx="353.3" cy="100.5" r="0.90" fill="rgb(40,165,50)" fill-opacity="0.33"/>
<circle cx="354.8" cy="89.2" r="1.49" fill="rgb(40,165,50)" fill-opacity="0.37"/>
<circle cx="353.2" cy="91.1" r="0.97" fill="rgb(40,165,50)" fill-opacity="0.30"/>
<circle cx="353.5" cy="99.9" r="1.46" fill="rgb(40,165,50)" fill-opacity="0.39"/>
<circle cx="355.5" cy="82.8" r="1.12" fill="rgb(40,165,50)" fill-opacity="0.53"/>
<circle cx="353.4" cy="99.9" r="0.99" fill="rgb(40,165,50)" fill-opacity="0.27"/>
<circle cx="351.3" cy="97.9" r="0.96" fill="rgb(40,165,50)" fill-opacity="0.29"/>
<circle cx="355.2" cy="99.1" r="1.34" fill="rgb(40,165,50)" fill-opacity="0.48"/>
<circle cx="353.1" cy="98.7" r="0.98" fill="rgb(40,165,50)" fill-opacity="0.23"/>
<circle cx="357.4" cy="81.3" r="1.25" fill="rgb(40,165,50)" fill-opacity="0.53"/>
<circle cx="355.7" cy="88.8" r="1.46" fill="rgb(40,165,50)" fill-opacity="0.33"/>
<circle cx="354.9" cy="85.1" r="0.86" fill="rgb(40,165,50)" fill-opacity="0.42"/>
<circle cx="354.6" cy="100.6" r="1.22" fill="rgb(40,165,50)" fill-opacity="0.48"/>
<circle cx="354.7" cy="103.6" r="1.33" fill="rgb(40,165,50)" fill-opacity="0.37"/>
<circle cx="361.8" cy="111.6" r="0.97" fill="rgb(40,165,50)" fill-opacity="0.38"/>
<circle cx="368.7" cy="111.7" r="1.46" fill="rgb(40,165,50)" fill-opacity="0.36"/>
<circle cx="357.2" cy="107.1" r="1.42" fill="rgb(40,165,50)" fill-opacity="0.38"/>
<circle cx="357.8" cy="103.9" r="1.23" fill="rgb(40,165,50)" fill-opacity="0.27"/>
<circle cx="362.3" cy="110.6" r="1.48" fill="rgb(40,165,50)" fill-opacity="0.34"/>
<circle cx="362.8" cy="109.9" r="1.40" fill="rgb(40,165,50)" fill-opacity="0.39"/>
<circle cx="357.3" cy="108.1" r="0.89" fill="rgb(40,165,50)" fill-opacity="0.33"/>
<circle cx="357.4" cy="108.1" r="1.43" fill="rgb(40,165,50)" fill-opacity="0.27"/>
<circle cx="358.8" cy="108.7" r="1.04" fill="rgb(40,165,50)" fill-opacity="0.41"/>
<circle cx="360.2" cy="109.9" r="0.71" fill="rgb(40,165,50)" fill-opacity="0.29"/>
<circle cx="358.7" cy="106.9" r="0.84" fill="rgb(40,165,50)" fill-opacity="0.30"/>
<circle cx="364.3" cy="110.8" r="1.11" fill="rgb(40,165,50)" fill-opacity="0.32"/>
<circle cx="367.2" cy="112.0" r="0.90" fill="rgb(40,165,50)" fill-opacity="0.25"/>
<circle cx="364.7" cy="111.1" r="1.31" fill="rgb(40,165,50)" fill-opacity="0.41"/>
<circle cx="359.6" cy="108.9" r="1.11" fill="rgb(40,165,50)" fill-opacity="0.35"/>
<circle cx="359.5" cy="109.5" r="1.45" fill="rgb(40,165,50)" fill-opacity="0.36"/>
<circle cx="368.5" cy="111.0" r="1.15" fill="rgb(40,165,50)" fill-opacity="0.42"/>
<circle cx="367.5" cy="111.6" r="1.05" fill="rgb(40,165,50)" fill-opacity="0.20"/>
<circle cx="359.0" cy="108.3" r="1.33" fill="rgb(40,165,50)" fill-opacity="0.41"/>
<circle cx="365.4" cy="76.5" r="0.81" fill="rgb(40,165,50)" fill-opacity="0.47"/>
<circle cx="381.2" cy="85.9" r="1.02" fill="rgb(40,165,50)" fill-opacity="0.36"/>
<circle cx="381.2" cy="83.3" r="1.05" fill="rgb(40,165,50)" fill-opacity="0.36"/>
<circle cx="370.2" cy="78.5" r="1.28" fill="rgb(40,165,50)" fill-opacity="0.22"/>
<circle cx="374.3" cy="78.5" r="0.97" fill="rgb(40,165,50)" fill-opacity="0.40"/>
<circle cx="376.3" cy="79.3" r="1.33" fill="rgb(40,165,50)" fill-opacity="0.50"/>
<circle cx="364.5" cy="78.5" r="1.32" fill="rgb(40,165,50)" fill-opacity="0.29"/>
<circle cx="363.2" cy="79.1" r="1.36" fill="rgb(40,165,50)" fill-opacity="0.29"/>
<circle cx="366.7" cy="77.4" r="1.26" fill="rgb(40,165,50)" fill-opacity="0.24"/>
<circle cx="363.0" cy="77.6" r="0.76" fill="rgb(40,165,50)" fill-opacity="0.49"/>
<circle cx="376.1" cy="78.7" r="1.38" fill="rgb(40,165,50)" fill-opacity="0.24"/>
<circle cx="378.6" cy="82.0" r="1.14" fill="rgb(40,165,50)" fill-opacity="0.48"/>
<circle cx="369.2" cy="78.5" r="0.89" fill="rgb(40,165,50)" fill-opacity="0.25"/>
<circle cx="366.5" cy="78.1" r="0.95" fill="rgb(40,165,50)" fill-opacity="0.30"/>
<circle cx="377.7" cy="81.5" r="0.84" fill="rgb(40,165,50)" fill-opacity="0.32"/>
<circle cx="362.4" cy="79.0" r="1.29" fill="rgb(40,165,50)" fill-opacity="0.37"/>
<circle cx="364.2" cy="78.2" r="0.79" fill="rgb(40,165,50)" fill-opacity="0.45"/>
<circle cx="370.1" cy="77.9" r="1.01" fill="rgb(40,165,50)" fill-opacity="0.36"/>
<circle cx="377.8" cy="79.5" r="1.37" fill="rgb(40,165,50)" fill-opacity="0.42"/>
<circle cx="375.2" cy="79.6" r="0.74" fill="rgb(40,165,50)" fill-opacity="0.25"/>
<circle cx="363.7" cy="77.7" r="0.83" fill="rgb(40,165,50)" fill-opacity="0.24"/>
<circle cx="380.2" cy="80.4" r="0.93" fill="rgb(40,165,50)" fill-opacity="0.29"/>
<circle cx="368.3" cy="77.8" r="1.06" fill="rgb(40,165,50)" fill-opacity="0.29"/>
<circle cx="381.9" cy="83.1" r="0.90" fill="rgb(40,165,50)" fill-opacity="0.49"/>
<circle cx="369.3" cy="77.7" r="1.01" fill="rgb(40,165,50)" fill-opacity="0.35"/>
<circle cx="381.1" cy="96.9" r="0.70" fill="rgb(40,165,50)" fill-opacity="0.31"/>
<circle cx="381.2" cy="86.3" r="0.72" fill="rgb(40,165,50)" fill-opacity="0.33"/>
<circle cx="380.6" cy="88.9" r="1.30" fill="rgb(40,165,50)" fill-opacity="0.45"/>
<circle cx="379.8" cy="99.8" r="0.96" fill="rgb(40,165,50)" fill-opacity="0.57"/>
<circle cx="381.3" cy="86.2" r="0.74" fill="rgb(40,165,50)" fill-opacity="0.52"/>
<circle cx="376.1" cy="102.8" r="1.35" fill="rgb(40,165,50)" fill-opacity="0.27"/>
<circle cx="378.7" cy="96.2" r="1.34" fill="rgb(40,165,50)" fill-opacity="0.51"/>
<circle cx="381.4" cy="96.7" r="1.25" fill="rgb(40,165,50)" fill-opacity="0.30"/>
<circle cx="381.8" cy="85.4" r="0.78" fill="rgb(40,165,50)" fill-opacity="0.52"/>
<circle cx="379.4" cy="96.0" r="1.24" fill="rgb(40,165,50)" fill-opacity="0.39"/>
<circle cx="381.5" cy="82.5" r="1.10" fill="rgb(40,165,50)" fill-opacity="0.41"/>
<circle cx="381.1" cy="99.9" r="0.90" fill="rgb(40,165,50)" fill-opacity="0.24"/>
<circle cx="381.5" cy="89.7" r="1.29" fill="rgb(40,165,50)" fill-opacity="0.57"/>
<circle cx="379.9" cy="96.4" r="1.25" fill="rgb(40,165,50)" fill-opacity="0.49"/>
<circle cx="379.7" cy="98.0" r="0.82" fill="rgb(40,165,50)" fill-opacity="0.31"/>
<circle cx="378.4" cy="102.2" r="0.71" fill="rgb(40,165,50)" fill-opacity="0.24"/>
<circle cx="380.9" cy="89.1" r="1.24" fill="rgb(40,165,50)" fill-opacity="0.32"/>
<circle cx="379.6" cy="96.4" r="0.79" fill="rgb(40,165,50)" fill-opacity="0.54"/>
<circle cx="384.0" cy="88.4" r="0.71" fill="rgb(40,165,50)" fill-opacity="0.38"/>
<circle cx="379.1" cy="102.4" r="0.91" fill="rgb(40,165,50)" fill-opacity="0.29"/>
<circle cx="377.0" cy="106.3" r="0.81" fill="rgb(40,165,50)" fill-opacity="0.40"/>
<circle cx="377.8" cy="106.5" r="1.11" fill="rgb(40,165,50)" fill-opacity="0.54"/>
<circle cx="379.4" cy="102.3" r="1.09" fill="rgb(40,165,50)" fill-opacity="0.22"/>
<circle cx="379.9" cy="84.1" r="0.94" fill="rgb(40,165,50)" fill-opacity="0.27"/>
<circle cx="380.7" cy="93.9" r="0.70" fill="rgb(40,165,50)" fill-opacity="0.49"/>
<circle cx="379.5" cy="104.5" r="1.27" fill="rgb(40,165,50)" fill-opacity="0.54"/>
<circle cx="380.9" cy="91.6" r="1.50" fill="rgb(40,165,50)" fill-opacity="0.43"/>
<circle cx="380.7" cy="92.9" r="0.74" fill="rgb(40,165,50)" fill-opacity="0.25"/>
<circle cx="377.4" cy="105.2" r="0.90" fill="rgb(40,165,50)" fill-opacity="0.31"/>
<circle cx="381.0" cy="96.9" r="1.46" fill="rgb(40,165,50)" fill-opacity="0.53"/>
<circle cx="356.0" cy="82.0" r="2.20" fill="rgb(40,165,50)" fill-opacity="0.43"/>
<circle cx="375.0" cy="103.0" r="2.20" fill="rgb(40,165,50)" fill-opacity="0.50"/>
<circle cx="372.8" cy="49.3" r="1.45" fill="rgb(40,165,50)" fill-opacity="0.26"/>
<circle cx="375.0" cy="50.9" r="1.06" fill="rgb(40,165,50)" fill-opacity="0.31"/>
<circle cx="372.8" cy="50.4" r="1.44" fill="rgb(40,165,50)" fill-opacity="0.17"/>
<circle cx="370.9" cy="50.1" r="1.29" fill="rgb(40,165,50)" fill-opacity="0.35"/>
<circle cx="369.3" cy="48.5" r="1.15" fill="rgb(40,165,50)" fill-opacity="0.23"/>
<circle cx="369.4" cy="49.9" r="1.42" fill="rgb(40,165,50)" fill-opacity="0.25"/>
<circle cx="372.2" cy="47.4" r="1.06" fill="rgb(40,165,50)" fill-opacity="0.17"/>
<circle cx="370.0" cy="49.8" r="0.77" fill="rgb(40,165,50)" fill-opacity="0.20"/>
<circle cx="388.4" cy="44.0" r="1.30" fill="rgb(40,165,50)" fill-opacity="0.23"/>
<circle cx="390.7" cy="45.2" r="0.97" fill="rgb(40,165,50)" fill-opacity="0.16"/>
<circle cx="391.0" cy="44.9" r="1.10" fill="rgb(40,165,50)" fill-opacity="0.28"/>
<circle cx="395.3" cy="48.3" r="0.90" fill="rgb(40,165,50)" fill-opacity="0.23"/>
<circle cx="393.8" cy="45.0" r="1.40" fill="rgb(40,165,50)" fill-opacity="0.15"/>
<circle cx="387.8" cy="42.9" r="1.08" fill="rgb(40,165,50)" fill-opacity="0.27"/>
<circle cx="386.2" cy="46.4" r="1.36" fill="rgb(40,165,50)" fill-opacity="0.33"/>
<circle cx="395.8" cy="48.4" r="0.82" fill="rgb(40,165,50)" fill-opacity="0.26"/>
<circle cx="394.7" cy="60.2" r="1.22" fill="rgb(40,165,50)" fill-opacity="0.25"/>
<circle cx="389.6" cy="58.8" r="1.33" fill="rgb(40,165,50)" fill-opacity="0.15"/>
<circle cx="396.3" cy="62.4" r="0.80" fill="rgb(40,165,50)" fill-opacity="0.15"/>
<circle cx="392.4" cy="59.9" r="0.76" fill="rgb(40,165,50)" fill-opacity="0.20"/>
<circle cx="391.2" cy="60.4" r="1.18" fill="rgb(40,165,50)" fill-opacity="0.11"/>
<circle cx="385.1" cy="58.5" r="1.22" fill="rgb(40,165,50)" fill-opacity="0.27"/>
<circle cx="390.2" cy="59.8" r="1.47" fill="rgb(40,165,50)" fill-opacity="0.23"/>
<circle cx="388.8" cy="58.1" r="1.24" fill="rgb(40,165,50)" fill-opacity="0.18"/>
<circle cx="385.7" cy="55.6" r="0.88" fill="rgb(40,165,50)" fill-opacity="0.11"/>
<circle cx="386.7" cy="58.8" r="0.86" fill="rgb(40,165,50)" fill-opacity="0.25"/>
<circle cx="393.4" cy="61.2" r="1.48" fill="rgb(40,165,50)" fill-opacity="0.16"/>
<circle cx="395.4" cy="62.7" r="1.31" fill="rgb(40,165,50)" fill-opacity="0.16"/>
<circle cx="412.0" cy="83.0" r="1.80" fill="rgb(40,165,50)" fill-opacity="0.36"/>
<circle cx="418.8" cy="107.4" r="0.88" fill="rgb(40,165,50)" fill-opacity="0.23"/>
<circle cx="416.5" cy="103.8" r="1.01" fill="rgb(40,165,50)" fill-opacity="0.19"/>
<circle cx="419.9" cy="107.9" r="0.75" fill="rgb(40,165,50)" fill-opacity="0.23"/>
<circle cx="420.0" cy="105.7" r="1.50" fill="rgb(40,165,50)" fill-opacity="0.35"/>
<circle cx="412.9" cy="102.4" r="1.30" fill="rgb(40,165,50)" fill-opacity="0.15"/>
<circle cx="415.3" cy="104.7" r="0.97" fill="rgb(40,165,50)" fill-opacity="0.18"/>
<circle cx="407.9" cy="97.9" r="1.46" fill="rgb(40,165,50)" fill-opacity="0.17"/>
<circle cx="419.8" cy="108.5" r="1.36" fill="rgb(40,165,50)" fill-opacity="0.32"/>
<circle cx="414.3" cy="101.7" r="1.00" fill="rgb(40,165,50)" fill-opacity="0.34"/>
<circle cx="408.9" cy="100.4" r="0.72" fill="rgb(40,165,50)" fill-opacity="0.23"/>
<circle cx="417.8" cy="105.5" r="0.73" fill="rgb(40,165,50)" fill-opacity="0.16"/>
<circle cx="419.0" cy="108.7" r="1.42" fill="rgb(40,165,50)" fill-opacity="0.22"/>
<circle cx="412.6" cy="99.3" r="0.91" fill="rgb(40,165,50)" fill-opacity="0.30"/>
<circle cx="411.8" cy="100.2" r="1.30" fill="rgb(40,165,50)" fill-opacity="0.34"/>
<circle cx="422.4" cy="112.0" r="0.89" fill="rgb(40,165,50)" fill-opacity="0.34"/>
<circle cx="424.8" cy="117.0" r="0.90" fill="rgb(40,165,50)" fill-opacity="0.32"/>
<circle cx="421.6" cy="109.9" r="1.34" fill="rgb(40,165,50)" fill-opacity="0.40"/>
<circle cx="423.5" cy="113.6" r="0.96" fill="rgb(40,165,50)" fill-opacity="0.30"/>
<circle cx="420.0" cy="108.0" r="0.86" fill="rgb(40,165,50)" fill-opacity="0.41"/>
<circle cx="419.0" cy="107.1" r="1.14" fill="rgb(40,165,50)" fill-opacity="0.30"/>
<circle cx="426.1" cy="115.7" r="0.91" fill="rgb(40,165,50)" fill-opacity="0.24"/>
<circle cx="415.6" cy="105.2" r="1.06" fill="rgb(40,165,50)" fill-opacity="0.28"/>
<circle cx="419.3" cy="108.1" r="1.30" fill="rgb(40,165,50)" fill-opacity="0.43"/>
<circle cx="423.7" cy="113.9" r="0.94" fill="rgb(40,165,50)" fill-opacity="0.36"/>
<circle cx="420.0" cy="107.9" r="0.90" fill="rgb(40,165,50)" fill-opacity="0.28"/>
<circle cx="418.7" cy="105.0" r="0.96" fill="rgb(40,165,50)" fill-opacity="0.32"/>
<circle cx="423.3" cy="117.8" r="1.35" fill="rgb(40,165,50)" fill-opacity="0.38"/>
<circle cx="424.9" cy="118.5" r="1.36" fill="rgb(40,165,50)" fill-opacity="0.43"/>
<circle cx="424.5" cy="116.7" r="0.80" fill="rgb(40,165,50)" fill-opacity="0.26"/>
<circle cx="421.9" cy="116.4" r="1.00" fill="rgb(40,165,50)" fill-opacity="0.43"/>
<circle cx="420.6" cy="111.3" r="1.46" fill="rgb(40,165,50)" fill-opacity="0.24"/>
<circle cx="421.4" cy="111.1" r="0.99" fill="rgb(40,165,50)" fill-opacity="0.25"/>
<circle cx="424.0" cy="120.0" r="3.20" fill="rgb(40,165,50)" fill-opacity="0.54"/>
<circle cx="420.0" cy="124.0" r="2.00" fill="rgb(40,165,50)" fill-opacity="0.36"/>
<circle cx="428.0" cy="117.0" r="1.60" fill="rgb(40,165,50)" fill-opacity="0.36"/>
<circle cx="411.2" cy="122.7" r="1.22" fill="rgb(40,165,50)" fill-opacity="0.19"/>
<circle cx="409.4" cy="121.4" r="0.85" fill="rgb(40,165,50)" fill-opacity="0.21"/>
<circle cx="411.6" cy="120.1" r="0.75" fill="rgb(40,165,50)" fill-opacity="0.17"/>
<circle cx="411.0" cy="122.3" r="0.77" fill="rgb(40,165,50)" fill-opacity="0.18"/>
<circle cx="413.1" cy="125.4" r="0.95" fill="rgb(40,165,50)" fill-opacity="0.35"/>
<circle cx="411.0" cy="121.7" r="1.03" fill="rgb(40,165,50)" fill-opacity="0.33"/>
<circle cx="414.6" cy="127.5" r="1.28" fill="rgb(40,165,50)" fill-opacity="0.19"/>
<circle cx="410.9" cy="119.4" r="1.36" fill="rgb(40,165,50)" fill-opacity="0.23"/>
<circle cx="444.6" cy="96.6" r="0.71" fill="rgb(40,165,50)" fill-opacity="0.30"/>
<circle cx="441.7" cy="95.9" r="1.20" fill="rgb(40,165,50)" fill-opacity="0.26"/>
<circle cx="439.6" cy="97.1" r="1.12" fill="rgb(40,165,50)" fill-opacity="0.38"/>
<circle cx="430.9" cy="100.3" r="1.47" fill="rgb(40,165,50)" fill-opacity="0.22"/>
<circle cx="435.5" cy="99.0" r="1.09" fill="rgb(40,165,50)" fill-opacity="0.19"/>
<circle cx="444.2" cy="98.0" r="1.20" fill="rgb(40,165,50)" fill-opacity="0.36"/>
<circle cx="433.6" cy="98.8" r="1.02" fill="rgb(40,165,50)" fill-opacity="0.36"/>
<circle cx="444.6" cy="96.9" r="1.02" fill="rgb(40,165,50)" fill-opacity="0.29"/>
<circle cx="437.6" cy="97.7" r="1.28" fill="rgb(40,165,50)" fill-opacity="0.37"/>
<circle cx="430.1" cy="100.6" r="0.73" fill="rgb(40,165,50)" fill-opacity="0.36"/>
<circle cx="431.8" cy="99.3" r="1.20" fill="rgb(40,165,50)" fill-opacity="0.25"/>
<circle cx="436.8" cy="96.4" r="1.23" fill="rgb(40,165,50)" fill-opacity="0.28"/>
<circle cx="439.4" cy="97.0" r="1.09" fill="rgb(40,165,50)" fill-opacity="0.23"/>
<circle cx="443.5" cy="95.0" r="0.84" fill="rgb(40,165,50)" fill-opacity="0.28"/>
<circle cx="433.4" cy="101.0" r="0.77" fill="rgb(40,165,50)" fill-opacity="0.28"/>
<circle cx="440.5" cy="96.8" r="0.77" fill="rgb(40,165,50)" fill-opacity="0.34"/>
<circle cx="443.2" cy="96.1" r="1.10" fill="rgb(40,165,50)" fill-opacity="0.26"/>
<circle cx="447.5" cy="98.2" r="1.50" fill="rgb(40,165,50)" fill-opacity="0.34"/>
<circle cx="458.8" cy="106.2" r="1.09" fill="rgb(40,165,50)" fill-opacity="0.42"/>
<circle cx="459.9" cy="106.3" r="1.44" fill="rgb(40,165,50)" fill-opacity="0.23"/>
<circle cx="452.0" cy="98.6" r="1.42" fill="rgb(40,165,50)" fill-opacity="0.28"/>
<circle cx="458.5" cy="104.4" r="1.44" fill="rgb(40,165,50)" fill-opacity="0.26"/>
<circle cx="449.9" cy="98.6" r="0.73" fill="rgb(40,165,50)" fill-opacity="0.26"/>
<circle cx="450.7" cy="97.4" r="1.42" fill="rgb(40,165,50)" fill-opacity="0.25"/>
<circle cx="458.3" cy="104.0" r="1.21" fill="rgb(40,165,50)" fill-opacity="0.29"/>
<circle cx="457.2" cy="103.8" r="1.41" fill="rgb(40,165,50)" fill-opacity="0.24"/>
<circle cx="459.2" cy="105.2" r="1.34" fill="rgb(40,165,50)" fill-opacity="0.27"/>
<circle cx="459.1" cy="105.4" r="1.31" fill="rgb(40,165,50)" fill-opacity="0.31"/>
<circle cx="449.6" cy="97.8" r="1.36" fill="rgb(40,165,50)" fill-opacity="0.27"/>
<circle cx="456.9" cy="101.5" r="1.23" fill="rgb(40,165,50)" fill-opacity="0.28"/>
<circle cx="447.6" cy="97.1" r="1.19" fill="rgb(40,165,50)" fill-opacity="0.31"/>
<circle cx="454.5" cy="100.2" r="0.88" fill="rgb(40,165,50)" fill-opacity="0.36"/>
<circle cx="448.3" cy="97.1" r="0.79" fill="rgb(40,165,50)" fill-opacity="0.29"/>
<circle cx="449.1" cy="97.7" r="0.86" fill="rgb(40,165,50)" fill-opacity="0.35"/>
<circle cx="442.7" cy="113.5" r="0.89" fill="rgb(40,165,50)" fill-opacity="0.17"/>
<circle cx="432.4" cy="107.5" r="1.33" fill="rgb(40,165,50)" fill-opacity="0.22"/>
<circle cx="438.4" cy="110.7" r="1.15" fill="rgb(40,165,50)" fill-opacity="0.21"/>
<circle cx="442.4" cy="113.1" r="1.29" fill="rgb(40,165,50)" fill-opacity="0.19"/>
<circle cx="451.2" cy="112.6" r="1.02" fill="rgb(40,165,50)" fill-opacity="0.19"/>
<circle cx="433.1" cy="108.5" r="1.14" fill="rgb(40,165,50)" fill-opacity="0.31"/>
<circle cx="435.0" cy="110.8" r="1.11" fill="rgb(40,165,50)" fill-opacity="0.26"/>
<circle cx="448.5" cy="113.1" r="0.94" fill="rgb(40,165,50)" fill-opacity="0.15"/>
<circle cx="450.0" cy="110.7" r="0.71" fill="rgb(40,165,50)" fill-opacity="0.30"/>
<circle cx="445.1" cy="112.7" r="1.06" fill="rgb(40,165,50)" fill-opacity="0.18"/>
<circle cx="434.0" cy="109.4" r="0.97" fill="rgb(40,165,50)" fill-opacity="0.28"/>
<circle cx="446.5" cy="111.0" r="0.91" fill="rgb(40,165,50)" fill-opacity="0.24"/>
<circle cx="440.6" cy="110.4" r="0.91" fill="rgb(40,165,50)" fill-opacity="0.26"/>
<circle cx="451.7" cy="114.1" r="0.71" fill="rgb(40,165,50)" fill-opacity="0.19"/>
<circle cx="436.0" cy="104.0" r="2.00" fill="rgb(40,165,50)" fill-opacity="0.32"/>
<circle cx="461.0" cy="105.0" r="3.60" fill="rgb(55,190,65)" fill-opacity="0.58"/>
<circle cx="458.0" cy="108.0" r="2.20" fill="rgb(40,165,50)" fill-opacity="0.43"/>
<circle cx="485.8" cy="92.1" r="1.25" fill="rgb(50,180,60)" fill-opacity="0.56"/>
<circle cx="485.4" cy="84.9" r="1.00" fill="rgb(50,180,60)" fill-opacity="0.54"/>
<circle cx="483.8" cy="91.7" r="0.94" fill="rgb(50,180,60)" fill-opacity="0.55"/>
<circle cx="483.0" cy="85.9" r="1.22" fill="rgb(50,180,60)" fill-opacity="0.48"/>
<circle cx="489.1" cy="88.0" r="1.08" fill="rgb(50,180,60)" fill-opacity="0.53"/>
<circle cx="484.3" cy="85.1" r="1.31" fill="rgb(50,180,60)" fill-opacity="0.41"/>
<circle cx="484.9" cy="84.9" r="1.14" fill="rgb(50,180,60)" fill-opacity="0.38"/>
<circle cx="486.4" cy="92.0" r="1.17" fill="rgb(50,180,60)" fill-opacity="0.31"/>
<circle cx="488.5" cy="86.6" r="0.89" fill="rgb(50,180,60)" fill-opacity="0.30"/>
<circle cx="488.3" cy="90.7" r="1.36" fill="rgb(50,180,60)" fill-opacity="0.39"/>
<circle cx="487.8" cy="91.3" r="0.82" fill="rgb(50,180,60)" fill-opacity="0.30"/>
<circle cx="484.2" cy="85.1" r="1.18" fill="rgb(50,180,60)" fill-opacity="0.49"/>
<circle cx="485.2" cy="84.9" r="0.84" fill="rgb(50,180,60)" fill-opacity="0.46"/>
<circle cx="483.1" cy="91.2" r="1.29" fill="rgb(50,180,60)" fill-opacity="0.52"/>
<circle cx="488.3" cy="86.2" r="0.84" fill="rgb(50,180,60)" fill-opacity="0.54"/>
<circle cx="488.6" cy="86.7" r="1.37" fill="rgb(50,180,60)" fill-opacity="0.32"/>
<circle cx="486.5" cy="92.0" r="0.87" fill="rgb(50,180,60)" fill-opacity="0.30"/>
<circle cx="487.6" cy="85.6" r="1.29" fill="rgb(50,180,60)" fill-opacity="0.47"/>
<circle cx="487.1" cy="85.3" r="1.18" fill="rgb(50,180,60)" fill-opacity="0.37"/>
<circle cx="488.4" cy="90.6" r="0.86" fill="rgb(50,180,60)" fill-opacity="0.51"/>
<circle cx="486.5" cy="92.0" r="0.99" fill="rgb(50,180,60)" fill-opacity="0.41"/>
<circle cx="489.1" cy="89.0" r="0.95" fill="rgb(50,180,60)" fill-opacity="0.37"/>
<circle cx="485.5" cy="88.5" r="1.50" fill="rgb(40,165,50)" fill-opacity="0.22"/>
<circle cx="434.5" cy="40.5" r="1.60" fill="rgb(40,165,50)" fill-opacity="0.25"/>
<circle cx="438.5" cy="43.8" r="1.40" fill="rgb(40,165,50)" fill-opacity="0.22"/>
<circle cx="475.0" cy="44.0" r="1.40" fill="rgb(40,165,50)" fill-opacity="0.22"/>
<circle cx="472.5" cy="118.9" r="1.47" fill="rgb(40,165,50)" fill-opacity="0.20"/>
<circle cx="475.2" cy="118.9" r="1.03" fill="rgb(40,165,50)" fill-opacity="0.19"/>
<circle cx="473.2" cy="119.9" r="1.13" fill="rgb(40,165,50)" fill-opacity="0.15"/>
<circle cx="477.1" cy="120.2" r="0.84" fill="rgb(40,165,50)" fill-opacity="0.11"/>
<circle cx="465.2" cy="112.5" r="0.70" fill="rgb(40,165,50)" fill-opacity="0.20"/>
<circle cx="469.7" cy="116.3" r="1.10" fill="rgb(40,165,50)" fill-opacity="0.17"/>
<circle cx="474.9" cy="121.4" r="0.93" fill="rgb(40,165,50)" fill-opacity="0.15"/>
<circle cx="472.4" cy="118.2" r="1.21" fill="rgb(40,165,50)" fill-opacity="0.12"/>
<circle cx="473.7" cy="117.1" r="1.20" fill="rgb(40,165,50)" fill-opacity="0.17"/>
<circle cx="466.4" cy="117.7" r="0.77" fill="rgb(40,165,50)" fill-opacity="0.27"/>
<circle cx="475.0" cy="119.0" r="1.60" fill="rgb(40,165,50)" fill-opacity="0.29"/>
<circle cx="487.0" cy="117.0" r="1.80" fill="rgb(40,165,50)" fill-opacity="0.29"/>
<circle cx="496.5" cy="61.2" r="1.42" fill="rgb(40,165,50)" fill-opacity="0.13"/>
<circle cx="500.7" cy="67.2" r="1.07" fill="rgb(40,165,50)" fill-opacity="0.13"/>
<circle cx="503.4" cy="75.6" r="0.98" fill="rgb(40,165,50)" fill-opacity="0.11"/>
<circle cx="498.6" cy="61.7" r="1.29" fill="rgb(40,165,50)" fill-opacity="0.09"/>
<circle cx="500.9" cy="67.8" r="0.80" fill="rgb(40,165,50)" fill-opacity="0.12"/>
<circle cx="504.3" cy="81.3" r="0.94" fill="rgb(40,165,50)" fill-opacity="0.15"/>
<circle cx="504.3" cy="79.9" r="0.90" fill="rgb(40,165,50)" fill-opacity="0.11"/>
<circle cx="501.9" cy="71.8" r="0.85" fill="rgb(40,165,50)" fill-opacity="0.18"/>
<circle cx="505.2" cy="77.8" r="0.78" fill="rgb(40,165,50)" fill-opacity="0.11"/>
<circle cx="505.4" cy="82.0" r="1.05" fill="rgb(40,165,50)" fill-opacity="0.09"/>
<circle cx="476.3" cy="70.5" r="1.01" fill="rgb(40,165,50)" fill-opacity="0.07"/>
<circle cx="474.4" cy="65.0" r="1.10" fill="rgb(40,165,50)" fill-opacity="0.13"/>
<circle cx="475.3" cy="68.5" r="1.02" fill="rgb(40,165,50)" fill-opacity="0.14"/>
<circle cx="476.3" cy="74.9" r="1.30" fill="rgb(40,165,50)" fill-opacity="0.11"/>
<circle cx="472.1" cy="61.8" r="1.32" fill="rgb(40,165,50)" fill-opacity="0.13"/>
<circle cx="476.5" cy="72.2" r="1.06" fill="rgb(40,165,50)" fill-opacity="0.10"/>
<circle cx="476.5" cy="70.5" r="1.33" fill="rgb(40,165,50)" fill-opacity="0.13"/>
<circle cx="475.7" cy="71.0" r="1.06" fill="rgb(40,165,50)" fill-opacity="0.13"/>
<circle cx="417.1" cy="99.4" r="0.87" fill="rgb(40,165,50)" fill-opacity="0.08"/>
<circle cx="457.3" cy="108.8" r="0.59" fill="rgb(40,165,50)" fill-opacity="0.11"/>
<circle cx="509.8" cy="41.5" r="0.67" fill="rgb(40,165,50)" fill-opacity="0.07"/>
<circle cx="478.2" cy="123.6" r="0.66" fill="rgb(40,165,50)" fill-opacity="0.07"/>
<circle cx="444.2" cy="87.2" r="0.76" fill="rgb(40,165,50)" fill-opacity="0.11"/>
<circle cx="454.8" cy="113.4" r="0.66" fill="rgb(40,165,50)" fill-opacity="0.10"/>
<circle cx="505.5" cy="57.1" r="0.74" fill="rgb(40,165,50)" fill-opacity="0.10"/>
<circle cx="475.1" cy="49.1" r="0.89" fill="rgb(40,165,50)" fill-opacity="0.09"/>
<circle cx="359.3" cy="63.0" r="0.60" fill="rgb(40,165,50)" fill-opacity="0.06"/>
<circle cx="418.6" cy="76.3" r="0.75" fill="rgb(40,165,50)" fill-opacity="0.09"/>
<circle cx="393.5" cy="58.4" r="0.77" fill="rgb(40,165,50)" fill-opacity="0.15"/>
<circle cx="436.4" cy="57.9" r="0.80" fill="rgb(40,165,50)" fill-opacity="0.10"/>
<circle cx="384.8" cy="49.8" r="0.79" fill="rgb(40,165,50)" fill-opacity="0.14"/>
<circle cx="454.0" cy="80.7" r="0.68" fill="rgb(40,165,50)" fill-opacity="0.08"/>
<circle cx="508.1" cy="70.1" r="0.72" fill="rgb(40,165,50)" fill-opacity="0.14"/>
<circle cx="483.9" cy="80.6" r="0.55" fill="rgb(40,165,50)" fill-opacity="0.11"/>
<circle cx="370.5" cy="113.9" r="0.58" fill="rgb(40,165,50)" fill-opacity="0.14"/>
<circle cx="393.9" cy="72.2" r="0.53" fill="rgb(40,165,50)" fill-opacity="0.10"/>
<circle cx="380.5" cy="38.2" r="0.76" fill="rgb(40,165,50)" fill-opacity="0.09"/>
<circle cx="390.2" cy="65.5" r="0.64" fill="rgb(40,165,50)" fill-opacity="0.10"/>
<circle cx="454.5" cy="98.0" r="0.58" fill="rgb(40,165,50)" fill-opacity="0.15"/>
<circle cx="490.1" cy="43.2" r="0.81" fill="rgb(40,165,50)" fill-opacity="0.15"/>
<circle cx="478.6" cy="50.8" r="0.82" fill="rgb(40,165,50)" fill-opacity="0.12"/>
<circle cx="352.5" cy="39.0" r="0.88" fill="rgb(40,165,50)" fill-opacity="0.12"/>
<circle cx="391.0" cy="47.2" r="0.47" fill="rgb(40,165,50)" fill-opacity="0.08"/>
<circle cx="477.3" cy="69.5" r="0.48" fill="rgb(40,165,50)" fill-opacity="0.15"/>
<circle cx="479.8" cy="53.3" r="0.85" fill="rgb(40,165,50)" fill-opacity="0.12"/>
<circle cx="478.1" cy="98.8" r="0.85" fill="rgb(40,165,50)" fill-opacity="0.14"/>
<circle cx="487.6" cy="56.0" r="0.75" fill="rgb(40,165,50)" fill-opacity="0.11"/>
<circle cx="471.7" cy="77.9" r="0.84" fill="rgb(40,165,50)" fill-opacity="0.11"/>
<circle cx="393.4" cy="59.3" r="0.47" fill="rgb(40,165,50)" fill-opacity="0.11"/>
<circle cx="359.6" cy="80.5" r="0.47" fill="rgb(40,165,50)" fill-opacity="0.11"/>
<circle cx="431.7" cy="87.1" r="0.83" fill="rgb(40,165,50)" fill-opacity="0.06"/>
<circle cx="487.9" cy="80.6" r="0.68" fill="rgb(40,165,50)" fill-opacity="0.12"/>
<circle cx="487.9" cy="72.1" r="0.61" fill="rgb(40,165,50)" fill-opacity="0.15"/>
<circle cx="362.4" cy="96.0" r="0.72" fill="rgb(40,165,50)" fill-opacity="0.06"/>
<circle cx="450.0" cy="100.1" r="0.87" fill="rgb(40,165,50)" fill-opacity="0.09"/>
<circle cx="511.0" cy="84.5" r="0.64" fill="rgb(40,165,50)" fill-opacity="0.15"/>
<circle cx="355.6" cy="103.4" r="0.71" fill="rgb(40,165,50)" fill-opacity="0.09"/>
<circle cx="491.3" cy="71.3" r="0.64" fill="rgb(40,165,50)" fill-opacity="0.11"/>
<circle cx="476.4" cy="57.2" r="0.62" fill="rgb(40,165,50)" fill-opacity="0.10"/>
<circle cx="440.9" cy="113.2" r="0.55" fill="rgb(40,165,50)" fill-opacity="0.14"/>
<circle cx="416.2" cy="83.8" r="0.54" fill="rgb(40,165,50)" fill-opacity="0.11"/>
<circle cx="509.9" cy="97.6" r="0.80" fill="rgb(40,165,50)" fill-opacity="0.09"/>
<circle cx="402.0" cy="65.2" r="0.69" fill="rgb(40,165,50)" fill-opacity="0.12"/>
<circle cx="478.6" cy="41.6" r="0.76" fill="rgb(40,165,50)" fill-opacity="0.15"/>
<circle cx="439.4" cy="42.5" r="0.55" fill="rgb(40,165,50)" fill-opacity="0.06"/>
<circle cx="381.2" cy="121.9" r="0.70" fill="rgb(40,165,50)" fill-opacity="0.12"/>
<circle cx="479.4" cy="120.8" r="0.71" fill="rgb(40,165,50)" fill-opacity="0.12"/>
<circle cx="452.8" cy="101.4" r="0.70" fill="rgb(40,165,50)" fill-opacity="0.13"/>
<circle cx="384.9" cy="98.7" r="0.63" fill="rgb(40,165,50)" fill-opacity="0.13"/>
<circle cx="366.6" cy="54.5" r="0.42" fill="rgb(40,165,50)" fill-opacity="0.14"/>
<circle cx="499.9" cy="97.7" r="0.58" fill="rgb(40,165,50)" fill-opacity="0.14"/>
<circle cx="479.0" cy="89.2" r="0.53" fill="rgb(40,165,50)" fill-opacity="0.09"/>
<circle cx="419.2" cy="67.0" r="0.62" fill="rgb(40,165,50)" fill-opacity="0.12"/>
<circle cx="503.2" cy="43.0" r="0.68" fill="rgb(40,165,50)" fill-opacity="0.06"/>
<circle cx="369.5" cy="111.7" r="0.69" fill="rgb(40,165,50)" fill-opacity="0.15"/>
<circle cx="423.2" cy="39.3" r="0.59" fill="rgb(40,165,50)" fill-opacity="0.12"/>
<circle cx="503.8" cy="127.3" r="0.64" fill="rgb(40,165,50)" fill-opacity="0.10"/>
<circle cx="366.7" cy="96.7" r="0.51" fill="rgb(40,165,50)" fill-opacity="0.07"/>
<circle cx="352.5" cy="38.4" r="0.74" fill="rgb(40,165,50)" fill-opacity="0.07"/>
<circle cx="508.5" cy="46.0" r="0.83" fill="rgb(40,165,50)" fill-opacity="0.07"/>
<circle cx="352.9" cy="103.5" r="0.52" fill="rgb(40,165,50)" fill-opacity="0.13"/>
<circle cx="380.7" cy="42.6" r="0.79" fill="rgb(40,165,50)" fill-opacity="0.13"/>
<circle cx="490.3" cy="104.4" r="0.44" fill="rgb(40,165,50)" fill-opacity="0.12"/>
<circle cx="466.3" cy="79.9" r="0.87" fill="rgb(40,165,50)" fill-opacity="0.08"/>
<circle cx="508.1" cy="103.3" r="0.41" fill="rgb(40,165,50)" fill-opacity="0.06"/>
<circle cx="456.7" cy="112.4" r="0.44" fill="rgb(40,165,50)" fill-opacity="0.09"/>
<circle cx="469.6" cy="53.1" r="0.83" fill="rgb(40,165,50)" fill-opacity="0.11"/>
<circle cx="359.8" cy="71.4" r="0.69" fill="rgb(40,165,50)" fill-opacity="0.10"/>
<circle cx="461.0" cy="51.2" r="0.80" fill="rgb(40,165,50)" fill-opacity="0.09"/>
<circle cx="455.8" cy="95.3" r="0.61" fill="rgb(40,165,50)" fill-opacity="0.10"/>
<circle cx="478.9" cy="124.0" r="0.79" fill="rgb(40,165,50)" fill-opacity="0.11"/>
<circle cx="398.0" cy="43.5" r="0.89" fill="rgb(40,165,50)" fill-opacity="0.13"/>
<circle cx="485.7" cy="68.2" r="0.70" fill="rgb(40,165,50)" fill-opacity="0.16"/>
<circle cx="486.3" cy="92.7" r="0.55" fill="rgb(40,165,50)" fill-opacity="0.10"/>
<circle cx="495.7" cy="72.3" r="0.74" fill="rgb(40,165,50)" fill-opacity="0.12"/>
<circle cx="497.0" cy="111.5" r="0.54" fill="rgb(40,165,50)" fill-opacity="0.06"/>
<circle cx="393.1" cy="76.4" r="0.69" fill="rgb(40,165,50)" fill-opacity="0.14"/>
<circle cx="495.5" cy="41.8" r="0.82" fill="rgb(40,165,50)" fill-opacity="0.14"/>
<circle cx="492.2" cy="90.0" r="0.54" fill="rgb(40,165,50)" fill-opacity="0.14"/>
<circle cx="482.4" cy="100.3" r="0.86" fill="rgb(40,165,50)" fill-opacity="0.09"/>
<circle cx="364.0" cy="88.4" r="0.80" fill="rgb(40,165,50)" fill-opacity="0.08"/>
<circle cx="473.0" cy="122.8" r="0.52" fill="rgb(40,165,50)" fill-opacity="0.12"/>
<circle cx="461.1" cy="80.3" r="0.50" fill="rgb(40,165,50)" fill-opacity="0.08"/>
<circle cx="473.2" cy="110.0" r="0.63" fill="rgb(40,165,50)" fill-opacity="0.07"/>
<circle cx="482.3" cy="108.3" r="0.52" fill="rgb(40,165,50)" fill-opacity="0.12"/>
<circle cx="497.1" cy="118.5" r="0.66" fill="rgb(40,165,50)" fill-opacity="0.11"/>
<circle cx="446.6" cy="55.2" r="0.50" fill="rgb(40,165,50)" fill-opacity="0.08"/>
<circle cx="465.0" cy="71.0" r="0.68" fill="rgb(40,165,50)" fill-opacity="0.10"/>
</g></g>
<text x="6.8" y="22.7" font-size="25" fill="#000" stroke="#000" stroke-width="0.35" textLength="18.3" lengthAdjust="spacingAndGlyphs" >A</text>
<text x="43" y="20.7" font-size="16" stroke-width="0.35" textLength="101" lengthAdjust="spacingAndGlyphs"><tspan fill="#1b8f3c" stroke="#1b8f3c">TF</tspan><tspan fill="#000" stroke="#000">/</tspan><tspan fill="#e3192b" stroke="#e3192b">TFPI</tspan><tspan fill="#000" stroke="#000">/</tspan><tspan fill="#1f3ec2" stroke="#1f3ec2">cav-1</tspan></text>
<text x="210.8" y="15" font-size="16" fill="#1b8f3c" stroke="#1b8f3c" stroke-width="0.35" textLength="19" lengthAdjust="spacingAndGlyphs" >TF</text>
<filter id="glow" x="-10%" y="-40%" width="120%" height="180%"><feGaussianBlur stdDeviation="0.7"/></filter>
<text x="234.8" y="13.8" font-size="13" fill="#111" textLength="71.3" lengthAdjust="spacingAndGlyphs" stroke="#111" stroke-width="4.6" stroke-linejoin="round" filter="url(#glow)">overlapping</text>
<text x="234.8" y="13.8" font-size="13" fill="#fff" textLength="71.3" lengthAdjust="spacingAndGlyphs" stroke="#000" stroke-width="2.2" paint-order="stroke" stroke-linejoin="round">overlapping</text>
<text x="234.8" y="13.8" font-size="13" fill="#fff" textLength="71.3" lengthAdjust="spacingAndGlyphs" stroke="#fff" stroke-width="0.3">overlapping</text>
<text x="222.5" y="32.2" font-size="14.8" stroke-width="0.35" textLength="78" lengthAdjust="spacingAndGlyphs"><tspan fill="#e3192b" stroke="#e3192b">TFPI</tspan><tspan fill="#000" stroke="#000">/</tspan><tspan fill="#1f3ec2" stroke="#1f3ec2">cav-1</tspan></text>
<text x="362.4" y="21" font-size="14" fill="#111" stroke="#111" stroke-width="0.35" textLength="119.4" lengthAdjust="spacingAndGlyphs" >Non-overlapping</text>
<text x="486.9" y="21.6" font-size="16" fill="#1f9a3f" stroke="#1f9a3f" stroke-width="0.35" textLength="17.3" lengthAdjust="spacingAndGlyphs" >TF</text>
<text x="8.3" y="162" font-size="24.5" fill="#000" stroke="#000" stroke-width="0.35" textLength="17" lengthAdjust="spacingAndGlyphs" >B</text>
<text x="67.4" y="159.5" font-size="12" fill="#000" stroke="#000" stroke-width="0.35" text-anchor="end" >100</text>
<line x1="69.5" y1="154.8" x2="73" y2="154.8" stroke="#000" stroke-width="1.6"/>
<text x="67.4" y="189.79999999999998" font-size="12" fill="#000" stroke="#000" stroke-width="0.35" text-anchor="end" >80</text>
<line x1="69.5" y1="185.1" x2="73" y2="185.1" stroke="#000" stroke-width="1.6"/>
<text x="67.4" y="220.1" font-size="12" fill="#000" stroke="#000" stroke-width="0.35" text-anchor="end" >60</text>
<line x1="69.5" y1="215.4" x2="73" y2="215.4" stroke="#000" stroke-width="1.6"/>
<text x="67.4" y="250.39999999999998" font-size="12" fill="#000" stroke="#000" stroke-width="0.35" text-anchor="end" >40</text>
<line x1="69.5" y1="245.7" x2="73" y2="245.7" stroke="#000" stroke-width="1.6"/>
<text x="67.4" y="280.7" font-size="12" fill="#000" stroke="#000" stroke-width="0.35" text-anchor="end" >20</text>
<line x1="69.5" y1="276" x2="73" y2="276" stroke="#000" stroke-width="1.6"/>
<text x="67.4" y="311.0" font-size="12" fill="#000" stroke="#000" stroke-width="0.35" text-anchor="end" >0</text>
<line x1="69.5" y1="306.3" x2="73" y2="306.3" stroke="#000" stroke-width="1.6"/>
<line x1="73" y1="154" x2="73" y2="307.3" stroke="#000" stroke-width="2"/>
<line x1="72" y1="306.4" x2="288" y2="306.4" stroke="#000" stroke-width="2.1"/>
<line x1="184.3" y1="306" x2="184.3" y2="311" stroke="#000" stroke-width="1.6"/>
<text transform="translate(16.3,291.9) rotate(-90)" stroke="#000" stroke-width="0.35" font-size="13.4" textLength="114.8" lengthAdjust="spacingAndGlyphs">TF co-localization</text>
<text transform="translate(32.9,298.8) rotate(-90)" stroke="#000" stroke-width="0.35" font-size="13.4" textLength="126.5" lengthAdjust="spacingAndGlyphs">with TFPI and cav-1</text>
<text transform="translate(47.6,269.6) rotate(-90)" stroke="#000" stroke-width="0.35" font-size="9.4" textLength="67.5" lengthAdjust="spacingAndGlyphs">(% of total TF)</text>
<path d="M100.3 181.8 V178.6 H157 V181.8" fill="none" stroke="#000" stroke-width="2"/>
<path d="M212.3 193.3 V196.6 H270.2 V193.3" fill="none" stroke="#000" stroke-width="2"/>
<text x="120.8" y="173" font-size="13.6" fill="#000" stroke="#000" stroke-width="0.35" textLength="14.6" lengthAdjust="spacingAndGlyphs" >ns</text>
<text x="234.6" y="207.3" font-size="13.6" fill="#000" stroke="#000" stroke-width="0.35" textLength="14.4" lengthAdjust="spacingAndGlyphs" >ns</text>
<text x="203.5" y="157" font-size="14" fill="#000" textLength="17.2" lengthAdjust="spacingAndGlyphs" stroke="none">***</text>
<text x="258.4" y="165.3" font-size="14" fill="#000" textLength="18.3" lengthAdjust="spacingAndGlyphs" stroke="none">***</text>
<circle cx="95.8" cy="190" r="2.6" fill="#8a8a8a" stroke="#606060" stroke-width="0.7"/>
<circle cx="105.8" cy="188.6" r="2.6" fill="#8a8a8a" stroke="#606060" stroke-width="0.7"/>
<circle cx="110.6" cy="197.6" r="2.6" fill="#8a8a8a" stroke="#606060" stroke-width="0.7"/>
<circle cx="90.8" cy="200.5" r="2.6" fill="#8a8a8a" stroke="#606060" stroke-width="0.7"/>
<circle cx="100.6" cy="202" r="2.6" fill="#8a8a8a" stroke="#606060" stroke-width="0.7"/>
<circle cx="86.6" cy="214.5" r="2.6" fill="#8a8a8a" stroke="#606060" stroke-width="0.7"/>
<circle cx="95.8" cy="217.4" r="2.6" fill="#8a8a8a" stroke="#606060" stroke-width="0.7"/>
<circle cx="115.4" cy="215.5" r="2.6" fill="#8a8a8a" stroke="#606060" stroke-width="0.7"/>
<circle cx="105.8" cy="223.7" r="2.6" fill="#8a8a8a" stroke="#606060" stroke-width="0.7"/>
<circle cx="100.6" cy="234.2" r="2.6" fill="#8a8a8a" stroke="#606060" stroke-width="0.7"/>
<circle cx="92" cy="207" r="2.6" fill="#8a8a8a" stroke="#606060" stroke-width="0.7"/>
<circle cx="109" cy="208" r="2.6" fill="#8a8a8a" stroke="#606060" stroke-width="0.7"/>
<circle cx="100.6" cy="212" r="2.6" fill="#8a8a8a" stroke="#606060" stroke-width="0.7"/>
<rect x="139.0" y="197.9" width="5.4" height="5.4" fill="#8a8a8a"/>
<rect x="144.3" y="201.9" width="5.4" height="5.4" fill="#8a8a8a"/>
<rect x="150.0" y="202.70000000000002" width="5.4" height="5.4" fill="#8a8a8a"/>
<rect x="154.9" y="201.60000000000002" width="5.4" height="5.4" fill="#8a8a8a"/>
<rect x="159.8" y="202.70000000000002" width="5.4" height="5.4" fill="#8a8a8a"/>
<rect x="167.9" y="200.60000000000002" width="5.4" height="5.4" fill="#8a8a8a"/>
<rect x="163.3" y="203.5" width="5.4" height="5.4" fill="#8a8a8a"/>
<rect x="139.0" y="214.10000000000002" width="5.4" height="5.4" fill="#8a8a8a"/>
<rect x="146.8" y="215.70000000000002" width="5.4" height="5.4" fill="#8a8a8a"/>
<rect x="157.3" y="219.0" width="5.4" height="5.4" fill="#8a8a8a"/>
<rect x="167.9" y="214.9" width="5.4" height="5.4" fill="#8a8a8a"/>
<rect x="144.3" y="225.0" width="5.4" height="5.4" fill="#8a8a8a"/>
<rect x="163.3" y="230.8" width="5.4" height="5.4" fill="#8a8a8a"/>
<rect x="153.3" y="234.3" width="5.4" height="5.4" fill="#8a8a8a"/>
<rect x="150.3" y="210.3" width="5.4" height="5.4" fill="#8a8a8a"/>
<rect x="159.3" y="209.3" width="5.4" height="5.4" fill="#8a8a8a"/>
<circle cx="204.8" cy="161.2" r="2.6" fill="#8a8a8a" stroke="#606060" stroke-width="0.7"/>
<circle cx="212.1" cy="162.5" r="2.6" fill="#8a8a8a" stroke="#606060" stroke-width="0.7"/>
<circle cx="221.5" cy="161.2" r="2.6" fill="#8a8a8a" stroke="#606060" stroke-width="0.7"/>
<circle cx="197.7" cy="170.2" r="2.6" fill="#8a8a8a" stroke="#606060" stroke-width="0.7"/>
<circle cx="202.5" cy="168.5" r="2.6" fill="#8a8a8a" stroke="#606060" stroke-width="0.7"/>
<circle cx="216.7" cy="170.2" r="2.6" fill="#8a8a8a" stroke="#606060" stroke-width="0.7"/>
<circle cx="226.4" cy="170.2" r="2.6" fill="#8a8a8a" stroke="#606060" stroke-width="0.7"/>
<circle cx="197.7" cy="178.3" r="2.6" fill="#8a8a8a" stroke="#606060" stroke-width="0.7"/>
<circle cx="206.9" cy="178.3" r="2.6" fill="#8a8a8a" stroke="#606060" stroke-width="0.7"/>
<circle cx="216.7" cy="180.7" r="2.6" fill="#8a8a8a" stroke="#606060" stroke-width="0.7"/>
<circle cx="226.4" cy="178.3" r="2.6" fill="#8a8a8a" stroke="#606060" stroke-width="0.7"/>
<circle cx="217" cy="185.6" r="2.6" fill="#8a8a8a" stroke="#606060" stroke-width="0.7"/>
<circle cx="206.9" cy="191.8" r="2.6" fill="#8a8a8a" stroke="#606060" stroke-width="0.7"/>
<circle cx="210" cy="172" r="2.6" fill="#8a8a8a" stroke="#606060" stroke-width="0.7"/>
<circle cx="205" cy="175" r="2.6" fill="#8a8a8a" stroke="#606060" stroke-width="0.7"/>
<rect x="250.5" y="171.20000000000002" width="5.4" height="5.4" fill="#8a8a8a"/>
<rect x="255.0" y="169.20000000000002" width="5.4" height="5.4" fill="#8a8a8a"/>
<rect x="260.40000000000003" y="165.4" width="5.4" height="5.4" fill="#8a8a8a"/>
<rect x="270.1" y="164.60000000000002" width="5.4" height="5.4" fill="#8a8a8a"/>
<rect x="264.90000000000003" y="171.20000000000002" width="5.4" height="5.4" fill="#8a8a8a"/>
<rect x="255.60000000000002" y="175.3" width="5.4" height="5.4" fill="#8a8a8a"/>
<rect x="260.8" y="175.3" width="5.4" height="5.4" fill="#8a8a8a"/>
<rect x="264.90000000000003" y="176.4" width="5.4" height="5.4" fill="#8a8a8a"/>
<rect x="269.1" y="175.3" width="5.4" height="5.4" fill="#8a8a8a"/>
<rect x="279.40000000000003" y="173.3" width="5.4" height="5.4" fill="#8a8a8a"/>
<rect x="250.5" y="183.60000000000002" width="5.4" height="5.4" fill="#8a8a8a"/>
<rect x="259.8" y="186.70000000000002" width="5.4" height="5.4" fill="#8a8a8a"/>
<rect x="270.1" y="185.70000000000002" width="5.4" height="5.4" fill="#8a8a8a"/>
<rect x="279.8" y="182.60000000000002" width="5.4" height="5.4" fill="#8a8a8a"/>
<rect x="254.60000000000002" y="180.5" width="5.4" height="5.4" fill="#8a8a8a"/>
<rect x="264.90000000000003" y="180.5" width="5.4" height="5.4" fill="#8a8a8a"/>
<line x1="82.2" y1="208.8" x2="119.2" y2="208.8" stroke="#000" stroke-width="2.2"/>
<line x1="92.4" y1="205.9" x2="108.7" y2="205.9" stroke="#000" stroke-width="1.7"/>
<line x1="92.4" y1="211.70000000000002" x2="108.7" y2="211.70000000000002" stroke="#000" stroke-width="1.7"/>
<line x1="100.55000000000001" y1="205.9" x2="100.55000000000001" y2="211.70000000000002" stroke="#000" stroke-width="1.7"/>
<line x1="138.1" y1="214.7" x2="174.6" y2="214.7" stroke="#000" stroke-width="2.2"/>
<line x1="146" y1="211.79999999999998" x2="166" y2="211.79999999999998" stroke="#000" stroke-width="1.7"/>
<line x1="146" y1="217.6" x2="166" y2="217.6" stroke="#000" stroke-width="1.7"/>
<line x1="156.0" y1="211.79999999999998" x2="156.0" y2="217.6" stroke="#000" stroke-width="1.7"/>
<line x1="193.9" y1="173.9" x2="230.5" y2="173.9" stroke="#000" stroke-width="2.2"/>
<line x1="202" y1="171.70000000000002" x2="220" y2="171.70000000000002" stroke="#000" stroke-width="1.7"/>
<line x1="202" y1="176.1" x2="220" y2="176.1" stroke="#000" stroke-width="1.7"/>
<line x1="211.0" y1="171.70000000000002" x2="211.0" y2="176.1" stroke="#000" stroke-width="1.7"/>
<line x1="249.5" y1="179" x2="286" y2="179" stroke="#000" stroke-width="2.2"/>
<line x1="256" y1="177.5" x2="278" y2="177.5" stroke="#000" stroke-width="1.7"/>
<line x1="256" y1="180.5" x2="278" y2="180.5" stroke="#000" stroke-width="1.7"/>
<line x1="267.0" y1="177.5" x2="267.0" y2="180.5" stroke="#000" stroke-width="1.7"/>
<rect x="257" y="177" width="20" height="4" fill="#000"/>
<circle cx="109.3" cy="258.3" r="4" fill="#8a8a8a"/>
<rect x="105.5" y="274.5" width="8" height="8" fill="#8a8a8a"/>
<text x="121.8" y="262.9" font-size="15" stroke="#000" stroke-width="0.35" textLength="151.4" lengthAdjust="spacingAndGlyphs"><tspan fill="#177d22" stroke="#177d22">TF</tspan> overlapping <tspan fill="#e0232a" stroke="#e0232a">TFPI</tspan></text>
<text x="121.8" y="283.5" font-size="15" stroke="#000" stroke-width="0.35" textLength="151" lengthAdjust="spacingAndGlyphs"><tspan fill="#177d22" stroke="#177d22">TF</tspan> overlapping both</text>
<text x="142" y="302.3" font-size="15" stroke="#000" stroke-width="0.35" textLength="109" lengthAdjust="spacingAndGlyphs"><tspan fill="#e0232a" stroke="#e0232a">TFPI</tspan> and <tspan fill="#1f3ec2" stroke="#1f3ec2">cav-1</tspan></text>
<text x="70.6" y="328.8" font-size="16.4" fill="#000" stroke="#000" stroke-width="0.35" textLength="104.4" lengthAdjust="spacingAndGlyphs" >Control TF-EC</text>
<text x="192.8" y="328.9" font-size="16.4" fill="#000" stroke="#000" stroke-width="0.35" textLength="103.2" lengthAdjust="spacingAndGlyphs" >ADTRP-FLAG</text>
<text x="327" y="163.2" font-size="24.5" fill="#000" stroke="#000" stroke-width="0.35" textLength="17.8" lengthAdjust="spacingAndGlyphs" >C</text>
<rect x="358" y="143" width="10.5" height="10.5" fill="#8c8c8c" stroke="#111" stroke-width="2"/>
<text x="372.9" y="152.6" font-size="13" fill="#000" stroke="#000" stroke-width="0.2" textLength="97" lengthAdjust="spacingAndGlyphs" >W/ anti-TFPI IgG</text>
<rect x="358" y="158.5" width="10.5" height="10.5" fill="#ffffff" stroke="#111" stroke-width="2"/>
<text x="372.9" y="168.1" font-size="13" fill="#000" stroke="#000" stroke-width="0.2" textLength="106.5" lengthAdjust="spacingAndGlyphs" >W/O anti-TFPI IgG</text>
<rect x="358" y="174.2" width="10.5" height="10.5" fill="#ee2b1c" stroke="#111" stroke-width="2"/>
<text x="372.9" y="183.79999999999998" font-size="13" fill="#000" stroke="#000" stroke-width="0.2" textLength="128" lengthAdjust="spacingAndGlyphs" >FXa Inhibited by TFPI</text>
<text x="358.5" y="303.1" font-size="13" fill="#000" stroke="#000" stroke-width="0.35" text-anchor="end" >0</text>
<line x1="359" y1="298.8" x2="363" y2="298.8" stroke="#000" stroke-width="1.6"/>
<text x="358.5" y="277.0" font-size="13" fill="#000" stroke="#000" stroke-width="0.35" text-anchor="end" >10</text>
<line x1="359" y1="272.7" x2="363" y2="272.7" stroke="#000" stroke-width="1.6"/>
<text x="358.5" y="250.90000000000003" font-size="13" fill="#000" stroke="#000" stroke-width="0.35" text-anchor="end" >20</text>
<line x1="359" y1="246.60000000000002" x2="363" y2="246.60000000000002" stroke="#000" stroke-width="1.6"/>
<text x="358.5" y="224.8" font-size="13" fill="#000" stroke="#000" stroke-width="0.35" text-anchor="end" >30</text>
<line x1="359" y1="220.5" x2="363" y2="220.5" stroke="#000" stroke-width="1.6"/>
<text x="358.5" y="198.70000000000005" font-size="13" fill="#000" stroke="#000" stroke-width="0.35" text-anchor="end" >40</text>
<line x1="359" y1="194.40000000000003" x2="363" y2="194.40000000000003" stroke="#000" stroke-width="1.6"/>
<line x1="360.5" y1="285.75" x2="363" y2="285.75" stroke="#000" stroke-width="1.4"/>
<line x1="360.5" y1="259.65000000000003" x2="363" y2="259.65000000000003" stroke="#000" stroke-width="1.4"/>
<line x1="360.5" y1="233.55" x2="363" y2="233.55" stroke="#000" stroke-width="1.4"/>
<line x1="360.5" y1="207.45000000000002" x2="363" y2="207.45000000000002" stroke="#000" stroke-width="1.4"/>
<line x1="362.8" y1="188.5" x2="362.8" y2="299.8" stroke="#000" stroke-width="2"/>
<line x1="362" y1="298.8" x2="505" y2="298.8" stroke="#000" stroke-width="2"/>
<line x1="398.5" y1="298" x2="398.5" y2="302.5" stroke="#000" stroke-width="1.6"/>
<line x1="470.8" y1="298" x2="470.8" y2="302.5" stroke="#000" stroke-width="1.6"/>
<text transform="translate(335,286) rotate(-90)" stroke="#000" stroke-width="0.35" font-size="13.8" textLength="96" lengthAdjust="spacingAndGlyphs">Factor Xa (nM)</text>
<line x1="380.25" y1="207.45000000000002" x2="380.25" y2="200.925" stroke="#111" stroke-width="1.6"/>
<line x1="375.75" y1="200.925" x2="384.75" y2="200.925" stroke="#111" stroke-width="1.6"/>
<rect x="372.7" y="208.65" width="15.1" height="90.14999999999999" fill="#8e8e8e" stroke="#111" stroke-width="2.4"/>
<line x1="398.70000000000005" y1="251.82000000000002" x2="398.70000000000005" y2="248.68800000000002" stroke="#111" stroke-width="1.6"/>
<line x1="394.20000000000005" y1="248.68800000000002" x2="403.20000000000005" y2="248.68800000000002" stroke="#111" stroke-width="1.6"/>
<rect x="392.0" y="253.02" width="13.400000000000011" height="45.77999999999999" fill="#fff" stroke="#111" stroke-width="2.4"/>
<line x1="417.65" y1="254.43" x2="417.65" y2="251.298" stroke="#111" stroke-width="1.6"/>
<line x1="413.15" y1="251.298" x2="422.15" y2="251.298" stroke="#111" stroke-width="1.6"/>
<rect x="410.5" y="255.63" width="14.299999999999988" height="43.17" fill="#ee2b1c" stroke="#111" stroke-width="2.4"/>
<line x1="452.75" y1="202.23000000000002" x2="452.75" y2="198.05400000000003" stroke="#111" stroke-width="1.6"/>
<line x1="448.25" y1="198.05400000000003" x2="457.25" y2="198.05400000000003" stroke="#111" stroke-width="1.6"/>
<rect x="444.2" y="203.43" width="17.1" height="95.36999999999999" fill="#8e8e8e" stroke="#111" stroke-width="2.4"/>
<line x1="470.65" y1="272.7" x2="470.65" y2="268.785" stroke="#111" stroke-width="1.6"/>
<line x1="466.15" y1="268.785" x2="475.15" y2="268.785" stroke="#111" stroke-width="1.6"/>
<rect x="463.5" y="273.9" width="14.299999999999988" height="24.900000000000023" fill="#fff" stroke="#111" stroke-width="2.4"/>
<line x1="489.15" y1="228.33" x2="489.15" y2="224.67600000000002" stroke="#111" stroke-width="1.6"/>
<line x1="484.65" y1="224.67600000000002" x2="493.65" y2="224.67600000000002" stroke="#111" stroke-width="1.6"/>
<rect x="481.0" y="229.53" width="16.29999999999999" height="69.27" fill="#ee2b1c" stroke="#111" stroke-width="2.4"/>
<text x="461.3" y="269.5" font-size="13" fill="#2a2a2a" textLength="18.2" lengthAdjust="spacingAndGlyphs" stroke="#2a2a2a" stroke-width="0.3">***</text>
<text x="478.6" y="224.2" font-size="14" fill="#ee2b1c" textLength="20.7" lengthAdjust="spacingAndGlyphs" stroke="none">***</text>
<text x="372.5" y="317.4" font-size="15" fill="#000" stroke="#000" stroke-width="0.35" textLength="52" lengthAdjust="spacingAndGlyphs" >Control</text>
<text x="378.6" y="332.6" font-size="15" fill="#000" stroke="#000" stroke-width="0.35" textLength="42.6" lengthAdjust="spacingAndGlyphs" >TF-EC</text>
<text x="444.3" y="317.4" font-size="15" fill="#000" stroke="#000" stroke-width="0.35" textLength="52.8" lengthAdjust="spacingAndGlyphs" >ADTRP</text>
<text x="449.8" y="332.6" font-size="15" fill="#000" stroke="#000" stroke-width="0.35" textLength="40.4" lengthAdjust="spacingAndGlyphs" >FLAG</text>
</svg></body></html>
